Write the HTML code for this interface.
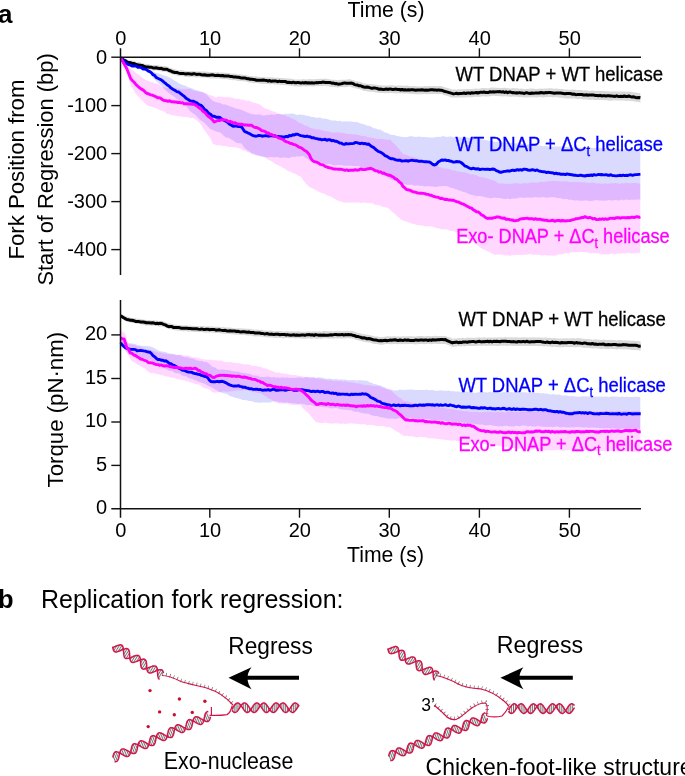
<!DOCTYPE html>
<html><head><meta charset="utf-8"><style>
html,body{margin:0;padding:0;background:#fff;}
svg{display:block;font-family:'Liberation Sans', sans-serif;will-change:transform;}
html,body{overflow:hidden;}
</style></head><body>
<svg width="685" height="776" viewBox="0 0 685 776">
<polygon points="120.9,58.5 123.2,59.5 125.4,61.0 127.7,62.1 129.9,63.6 132.2,64.9 134.4,65.6 136.7,66.0 139.1,67.3 141.4,67.3 143.7,68.2 146.1,70.0 148.4,70.5 150.7,71.3 153.0,71.4 155.9,72.7 158.9,73.4 161.8,74.7 164.7,75.8 167.6,76.6 170.6,78.0 173.5,80.0 176.4,81.5 178.7,83.3 181.1,84.3 183.4,85.2 185.7,85.7 188.1,87.3 190.4,87.7 192.8,88.8 195.3,89.8 197.8,90.5 200.2,91.6 202.8,92.1 205.3,93.6 207.9,95.8 210.4,98.8 212.9,100.8 215.5,102.1 218.1,102.6 220.7,103.2 223.2,104.5 225.8,104.4 228.4,105.7 230.9,106.4 233.4,107.6 236.0,108.5 238.6,109.0 241.1,109.7 243.6,110.7 246.2,112.1 248.8,112.9 251.3,114.1 253.3,114.3 255.3,114.6 257.4,114.5 259.4,114.2 261.4,115.1 263.4,115.4 265.4,115.2 267.4,114.8 269.4,114.9 271.4,114.3 273.4,114.8 275.4,114.5 277.4,114.1 279.4,113.8 281.4,114.5 283.4,114.5 285.4,113.5 287.4,114.2 289.4,113.7 291.4,113.4 293.5,113.8 295.6,114.5 297.6,114.9 299.7,114.3 301.8,115.1 303.9,114.8 305.9,115.8 308.0,115.7 310.1,116.5 312.2,117.0 314.3,116.9 316.5,117.9 318.6,117.6 320.7,117.8 322.8,118.7 324.9,118.6 327.0,119.1 329.2,119.8 331.3,120.4 333.4,120.4 335.5,120.4 337.7,121.3 339.8,120.8 341.9,121.6 344.0,121.6 346.2,121.2 348.3,121.4 350.4,121.6 352.5,121.8 354.7,121.9 356.8,122.0 358.9,122.8 361.1,123.8 363.2,124.1 365.3,124.8 367.4,125.8 369.6,126.1 371.7,126.9 373.8,128.3 375.9,128.6 378.1,129.4 380.2,129.6 382.6,131.1 385.1,132.4 387.6,132.9 390.0,134.6 392.2,135.1 394.4,134.9 396.6,135.9 398.7,136.2 400.9,136.8 403.1,137.0 405.3,137.2 407.5,137.1 409.7,136.3 411.9,136.2 414.1,136.7 416.3,136.9 418.5,136.4 420.7,136.8 422.9,137.1 425.0,137.1 427.2,137.3 429.4,137.5 431.6,137.4 433.8,137.4 436.0,136.9 438.2,136.7 440.4,136.9 442.6,135.9 444.8,136.6 447.0,136.9 449.1,136.6 451.3,136.6 453.5,137.3 455.7,136.8 457.7,136.9 459.8,137.2 461.8,137.5 463.8,137.0 465.8,137.3 467.9,137.4 469.9,138.0 471.9,137.7 473.9,138.2 476.0,137.6 478.0,137.8 480.0,138.8 482.0,139.6 484.0,139.8 486.0,140.1 488.0,140.6 490.0,141.2 492.0,141.0 494.0,141.8 496.0,142.0 498.0,141.5 500.0,141.8 502.1,142.5 504.1,142.5 506.2,142.8 508.2,142.6 510.3,142.5 512.4,142.9 514.4,143.6 516.5,143.2 518.5,143.5 520.6,143.7 522.7,143.9 524.7,144.1 526.8,144.8 528.8,144.2 530.9,144.2 533.0,145.3 535.0,145.4 537.1,145.7 539.1,145.4 541.2,146.1 543.3,146.2 545.3,145.7 547.4,146.4 549.4,146.7 551.5,146.7 553.6,146.6 555.6,146.4 557.7,146.5 559.7,146.5 561.8,146.4 563.9,146.9 565.9,146.7 568.0,147.3 570.0,146.6 572.1,147.5 574.2,147.4 576.2,147.6 578.3,147.7 580.3,147.7 582.4,147.5 584.5,147.0 586.5,147.8 588.6,147.3 590.6,147.4 592.7,147.9 594.8,147.8 596.8,147.7 598.9,148.3 600.9,148.1 603.0,147.8 605.1,147.9 607.1,148.6 609.2,148.3 611.3,148.7 613.4,148.4 615.4,148.4 617.5,148.8 619.6,149.2 621.6,148.7 623.7,149.4 625.8,149.6 627.9,149.6 629.9,149.8 632.0,149.1 634.1,149.8 636.2,150.1 638.2,149.4 640.3,150.0 640.3,199.5 638.2,199.5 636.2,199.8 634.1,199.7 632.0,199.8 629.9,200.0 627.9,199.7 625.8,199.5 623.7,200.4 621.6,199.6 619.6,200.2 617.5,200.5 615.4,199.8 613.4,200.4 611.3,200.4 609.2,200.0 607.1,200.5 605.1,200.6 603.0,200.7 600.9,200.4 598.7,200.5 596.6,200.1 594.4,200.5 592.3,200.7 590.1,201.0 588.0,200.8 585.9,200.3 583.7,200.8 581.6,200.7 579.4,200.7 577.3,200.3 575.1,200.5 573.0,200.2 570.8,199.6 568.7,199.9 566.5,198.8 564.4,199.3 562.2,199.0 560.1,198.0 558.0,198.3 555.8,197.6 553.6,197.2 551.5,197.3 549.4,197.2 547.2,197.8 545.1,197.5 542.9,197.1 540.8,197.4 538.6,197.4 536.5,197.3 534.4,197.0 532.2,197.7 530.1,197.6 527.9,197.4 525.8,197.4 523.5,198.1 521.3,197.6 519.0,197.7 516.8,198.6 514.5,198.5 512.3,198.5 510.0,199.3 508.0,198.5 505.9,199.1 503.9,198.9 501.9,198.6 499.8,198.0 497.8,197.9 495.7,197.8 493.7,197.7 491.7,198.2 489.6,198.2 487.6,197.8 485.4,197.4 483.1,196.6 480.9,196.2 478.6,196.1 476.4,196.2 474.1,195.6 471.9,194.9 469.8,194.6 467.7,193.6 465.6,192.6 463.5,191.9 461.4,191.3 459.1,190.6 456.9,189.5 454.6,188.9 452.4,188.0 450.1,187.8 447.9,186.2 445.6,186.1 443.5,185.9 441.4,186.2 439.3,186.3 437.2,186.7 435.1,187.1 432.9,186.4 430.7,186.4 428.6,186.2 426.4,186.3 424.2,186.4 422.0,185.7 420.0,185.9 417.9,185.3 415.9,185.8 413.8,185.4 411.8,184.8 409.7,184.7 407.7,184.9 405.6,184.3 403.6,184.3 401.3,183.2 399.1,182.8 396.8,181.6 394.6,180.7 392.3,180.2 390.1,179.1 387.8,177.5 385.7,176.0 383.6,175.3 381.5,173.5 379.4,171.8 377.3,170.3 375.2,170.1 373.2,169.8 371.2,169.3 369.1,168.4 367.1,168.5 365.0,167.8 362.9,168.0 360.9,167.1 358.9,166.3 356.8,166.2 354.7,166.0 352.5,166.0 350.4,165.8 348.3,165.8 346.2,166.0 344.0,165.8 341.9,165.3 339.8,165.1 337.7,165.1 335.5,165.5 333.4,165.2 331.1,164.5 328.8,163.7 326.4,164.2 324.1,163.5 321.8,162.4 319.5,162.5 317.1,161.9 314.8,161.6 312.4,160.4 310.1,160.7 307.8,158.9 305.4,157.8 303.1,156.1 301.1,156.3 299.0,156.7 296.9,156.3 294.9,157.3 292.9,156.8 290.8,157.2 288.8,158.2 286.7,157.7 284.6,157.6 282.5,157.4 280.3,158.0 278.2,157.3 276.1,157.1 274.0,157.5 271.9,156.9 269.8,157.3 267.6,157.4 265.5,157.2 263.4,157.2 261.1,156.6 258.7,155.7 256.4,155.1 254.0,153.7 251.7,153.4 249.2,151.2 246.7,149.7 244.2,147.8 241.1,143.3 238.6,143.3 236.0,142.7 233.4,140.7 230.9,139.2 228.4,137.8 225.8,137.4 223.2,135.2 220.7,132.8 218.1,132.1 215.5,131.3 212.9,130.0 210.4,129.2 207.9,126.4 205.3,123.8 202.8,121.8 200.2,120.0 197.6,117.5 195.0,114.4 192.7,113.3 190.4,111.6 188.2,108.8 186.0,106.1 183.4,102.1 181.1,101.0 178.7,100.0 176.4,98.6 173.5,96.2 170.6,94.5 168.3,92.5 166.0,90.9 164.0,88.8 162.0,86.6 160.0,84.6 158.0,82.8 155.5,80.3 153.0,78.0 150.5,74.6 148.0,72.4 146.0,71.7 144.0,70.0 142.0,69.3 140.0,68.5 138.0,67.6 136.0,66.8 134.0,66.8 131.8,65.1 129.6,63.8 127.5,62.5 125.3,60.9 123.1,59.6 120.9,58.5" fill="#0000ff" fill-opacity="0.145"/>
<polygon points="120.9,58.5 123.1,60.6 125.3,62.8 127.5,65.0 129.7,68.0 132.1,69.9 134.4,71.4 136.7,73.6 139.1,75.1 141.4,77.0 143.7,78.5 146.1,80.3 148.4,80.8 150.4,81.9 152.4,82.2 154.5,83.3 156.5,83.5 159.4,85.1 162.4,86.9 164.5,87.3 166.6,87.7 168.7,87.5 170.8,88.2 172.9,87.7 175.0,88.1 177.1,88.2 179.2,88.4 181.4,89.2 183.5,89.2 185.7,88.7 187.8,88.8 190.0,89.1 192.2,90.0 194.4,90.7 196.6,91.2 198.7,91.6 200.9,91.8 203.1,92.6 205.3,93.0 207.3,94.1 209.4,95.0 211.4,95.5 213.5,96.3 215.5,97.7 218.1,96.4 220.7,96.7 222.7,97.0 224.8,97.2 226.8,96.9 228.9,97.3 230.9,97.5 232.9,97.9 235.0,98.7 237.0,98.8 239.1,98.8 241.1,99.8 243.1,99.8 245.2,100.3 247.2,100.9 249.3,100.6 251.3,101.8 253.5,102.4 255.7,103.0 257.8,103.8 260.0,104.5 263.4,107.6 265.5,108.7 267.6,108.9 269.8,110.1 271.9,111.0 274.0,111.6 276.1,112.4 278.2,113.6 280.3,114.3 282.5,114.2 284.6,115.6 286.7,116.2 288.8,116.7 291.0,118.1 293.1,119.0 295.2,119.9 297.3,121.4 299.5,122.9 301.6,123.3 303.7,124.9 305.8,125.8 308.0,126.3 310.1,128.1 312.2,128.2 314.3,129.0 316.5,129.2 318.6,129.6 320.7,129.7 322.8,130.6 324.9,131.1 327.0,131.5 329.2,131.5 331.3,132.2 333.4,132.4 335.5,132.2 337.7,132.4 339.8,132.6 341.9,132.9 344.0,133.1 346.2,133.7 348.3,134.1 350.4,134.1 352.5,134.2 354.7,134.6 356.8,134.5 358.9,135.1 361.1,135.8 363.2,135.9 365.3,136.1 367.4,137.2 369.6,137.5 371.7,137.6 373.8,138.0 375.9,138.6 378.1,139.1 380.2,139.1 382.6,139.0 385.1,139.3 387.6,139.9 390.0,139.3 392.2,141.9 394.4,143.8 396.6,146.0 398.8,148.6 400.9,151.5 403.1,153.9 405.2,154.4 407.4,155.2 409.5,156.0 411.6,157.1 413.8,157.3 415.9,158.0 418.0,159.2 420.2,159.8 422.3,160.9 424.4,160.9 426.6,162.0 428.7,162.7 430.8,163.2 433.0,165.0 435.1,165.1 437.2,165.8 439.4,167.0 441.5,167.6 443.6,168.5 445.8,168.6 447.9,168.8 450.1,169.2 452.2,170.3 454.4,170.3 456.6,171.2 458.7,171.3 460.9,172.2 463.0,172.0 465.2,172.4 467.3,172.9 469.4,174.0 471.5,174.4 473.6,174.6 475.8,175.0 477.9,176.1 480.0,177.0 482.2,177.3 484.4,177.4 486.6,178.2 488.7,179.0 490.9,179.8 493.1,180.3 495.4,181.2 497.7,182.7 500.0,183.8 502.1,183.1 504.3,183.9 506.4,183.4 508.6,183.7 510.8,183.8 512.9,183.8 515.0,182.9 517.2,183.2 519.3,183.5 521.5,183.8 523.6,183.0 525.8,183.2 527.9,183.5 530.1,182.6 532.2,182.6 534.4,182.4 536.5,182.5 538.6,182.5 540.8,181.6 542.9,181.9 545.1,181.7 547.2,181.6 549.4,181.1 551.5,181.2 553.6,180.8 555.8,180.9 558.0,180.9 560.1,181.5 562.2,181.3 564.4,181.2 566.5,181.2 568.7,181.9 570.8,181.9 573.0,182.1 575.1,181.9 577.3,182.1 579.4,181.9 581.6,182.5 583.7,181.9 585.9,182.5 588.0,182.9 590.1,182.9 592.3,182.5 594.4,182.7 596.6,183.4 598.7,183.3 600.9,183.7 603.0,183.8 605.1,183.3 607.1,183.8 609.2,183.6 611.3,183.2 613.4,183.3 615.4,183.0 617.5,183.3 619.6,183.9 621.6,183.0 623.7,183.5 625.8,183.0 627.9,183.0 629.9,183.5 632.0,183.1 634.1,182.9 636.2,183.1 638.2,183.5 640.3,183.4 640.3,253.0 638.2,252.8 636.2,253.5 634.1,252.9 632.0,253.7 629.9,253.1 627.9,253.0 625.8,253.6 623.7,253.3 621.6,253.6 619.6,253.5 617.5,253.4 615.4,254.3 613.4,253.7 611.3,253.5 609.2,254.4 607.1,254.3 605.1,254.6 603.0,254.5 600.9,254.1 598.7,253.4 596.6,253.3 594.4,253.2 592.3,252.8 590.1,253.5 588.0,252.5 585.9,252.2 583.7,252.1 581.6,252.0 579.4,251.7 577.3,252.1 575.1,252.5 573.0,252.1 570.8,252.5 568.7,253.3 566.5,253.2 564.4,253.3 562.2,254.4 560.1,254.0 558.0,254.8 555.8,255.4 553.6,255.7 551.5,255.6 549.4,255.4 547.2,255.6 545.1,254.9 542.9,255.6 540.8,255.3 538.6,254.7 536.5,254.8 534.4,254.8 532.2,254.7 530.1,254.0 527.9,254.5 525.8,254.7 523.5,254.8 521.3,255.0 519.0,254.7 516.8,255.0 514.5,254.9 512.3,254.9 510.0,255.9 507.9,255.2 505.7,255.4 503.6,254.9 501.4,254.6 499.3,254.5 497.2,254.5 495.0,254.8 492.9,254.3 490.8,252.7 488.7,251.7 486.6,250.9 484.5,249.8 482.4,248.9 480.3,247.5 478.2,246.1 476.1,244.2 474.0,242.4 471.9,241.3 469.6,240.0 467.4,238.4 465.1,236.5 462.9,235.3 460.6,234.1 458.4,233.1 456.1,232.0 453.9,231.3 451.7,231.1 449.6,230.7 447.4,229.6 445.2,229.3 443.0,229.4 440.8,229.1 438.6,228.4 436.4,227.9 434.2,227.3 432.0,226.5 429.8,226.3 427.6,226.2 425.4,226.4 423.2,225.6 421.1,225.4 418.9,225.0 416.7,225.2 414.5,224.1 412.3,223.7 410.1,223.1 408.0,222.0 405.8,221.6 403.6,220.7 401.3,219.8 399.1,217.7 396.8,216.1 394.6,213.7 392.3,212.1 390.1,209.7 387.8,207.7 385.8,207.2 383.7,207.0 381.7,206.4 379.6,205.4 377.6,204.7 375.5,204.9 373.5,203.7 371.4,203.2 369.4,203.1 367.3,203.1 365.2,202.7 363.1,202.4 361.0,203.0 358.9,202.4 356.8,202.5 354.6,202.6 352.4,202.6 350.2,202.5 348.0,202.4 345.8,202.7 343.2,202.3 340.7,201.5 338.1,200.7 336.1,199.5 334.0,198.7 332.0,197.2 330.0,196.2 327.9,195.7 325.9,194.7 323.8,193.6 321.8,192.9 319.8,192.3 317.8,191.3 315.8,189.9 313.7,189.0 311.7,187.9 309.7,187.3 307.7,185.6 305.4,183.1 303.0,179.9 300.7,176.6 298.7,176.0 296.7,174.4 294.7,173.5 292.7,173.2 290.7,171.6 288.7,171.2 286.7,170.3 284.6,168.5 282.5,167.7 280.5,166.3 278.4,165.6 276.3,164.4 274.2,163.2 272.2,161.6 270.1,160.5 268.0,159.7 265.7,157.7 263.4,156.3 260.9,155.9 258.4,155.6 255.9,155.6 253.4,154.6 251.3,153.6 249.3,152.5 247.2,151.9 245.2,150.8 243.2,150.5 241.1,148.9 238.6,147.9 236.0,147.5 234.0,147.3 231.9,146.9 229.9,147.0 227.8,146.7 225.8,146.0 223.5,146.1 221.2,145.7 218.9,145.2 216.6,145.6 214.6,144.4 212.5,143.4 210.4,137.9 207.9,135.0 205.3,131.2 202.8,127.8 200.2,123.5 197.6,121.3 195.1,118.9 192.7,118.0 190.4,118.0 188.0,117.3 185.7,117.0 183.3,116.8 181.0,116.8 178.7,116.0 176.3,115.9 174.0,115.3 171.7,115.3 169.3,113.9 167.0,113.9 164.7,111.8 162.3,110.7 160.0,110.2 157.7,108.7 155.3,108.0 153.0,107.3 150.1,106.4 147.2,105.5 144.3,102.4 141.4,99.7 138.4,96.4 135.5,93.6 133.2,89.2 130.8,85.9 128.5,78.1 125.0,67.5 123.0,63.3 120.9,58.5" fill="#ff00ff" fill-opacity="0.158"/>
<polygon points="120.7,55.9 123.3,57.6 125.9,58.8 128.5,60.2 132.0,60.5 134.3,60.9 136.7,61.9 139.0,62.1 141.3,62.7 143.7,63.6 146.0,64.2 148.3,64.0 150.7,64.9 153.0,64.9 155.1,65.0 157.1,65.0 159.1,65.4 161.2,65.9 164.1,66.0 167.0,66.5 169.9,67.7 172.9,68.8 175.8,69.5 178.7,70.4 181.0,70.1 183.4,70.4 185.7,71.0 187.8,71.1 189.8,71.2 191.8,70.9 193.9,71.0 195.9,71.4 198.0,71.3 200.3,71.5 202.6,71.4 205.0,71.4 207.3,71.7 209.6,72.1 211.7,72.2 213.8,72.2 215.9,72.2 217.9,72.3 220.0,72.4 222.1,72.5 224.2,72.8 226.3,72.7 228.4,73.1 230.5,73.6 232.5,73.8 234.6,73.6 236.7,74.3 238.8,74.5 240.9,74.4 243.0,74.7 245.1,75.0 247.1,75.2 249.2,76.1 251.3,76.0 253.4,76.6 255.5,76.3 257.6,76.4 259.7,77.0 261.7,77.1 263.8,77.3 265.9,77.3 268.0,77.3 270.1,77.6 272.2,77.3 274.3,77.7 276.3,77.8 278.4,77.7 280.5,78.1 282.6,78.1 284.7,78.3 286.7,78.4 288.8,78.5 290.9,78.7 292.9,79.0 295.0,79.4 297.2,79.4 299.3,79.4 301.5,79.4 303.6,79.1 305.8,79.6 307.9,79.2 310.1,79.1 312.1,79.2 314.1,79.3 316.1,78.9 318.1,79.0 320.1,78.7 322.1,79.0 324.1,78.6 326.1,78.8 328.1,79.1 330.1,79.5 332.1,79.8 334.1,79.7 336.1,79.9 338.1,80.2 340.4,79.7 342.8,79.7 345.1,79.8 347.5,79.5 349.8,78.9 351.8,80.0 353.8,80.3 355.8,81.2 357.8,81.4 359.8,81.8 361.8,82.6 363.8,83.4 365.9,83.4 367.9,83.9 369.9,84.1 372.0,84.2 374.1,84.4 376.1,84.8 378.1,85.0 380.2,85.3 382.6,85.5 385.1,85.6 387.6,85.5 390.0,85.2 392.1,85.3 394.3,85.5 396.4,85.7 398.6,85.5 400.8,85.5 402.9,85.7 405.1,85.7 407.2,85.6 409.4,86.0 411.5,86.3 413.7,86.1 415.8,86.3 417.9,86.4 420.1,86.4 422.2,86.4 424.4,86.1 426.5,86.2 428.6,85.9 430.8,86.3 432.9,86.0 435.1,86.1 437.2,86.3 439.4,86.0 441.5,85.9 443.6,87.0 445.7,87.6 447.7,88.0 449.8,88.6 451.9,89.6 454.1,89.3 456.3,89.7 458.5,89.2 460.7,89.2 462.9,89.2 465.1,89.2 467.3,89.1 469.4,89.1 471.6,89.0 473.8,88.7 475.9,88.4 478.1,88.8 480.2,88.5 482.4,88.0 484.5,88.1 486.7,88.2 488.8,88.2 491.0,87.6 493.1,87.4 495.4,87.7 497.7,87.7 500.0,87.9 502.1,88.0 504.3,87.8 506.4,88.0 508.6,88.2 510.8,88.4 512.9,88.1 515.0,88.3 517.2,88.3 519.3,88.7 521.5,88.4 523.6,89.1 525.8,88.9 527.9,88.9 530.1,88.6 532.2,88.6 534.4,88.7 536.5,88.9 538.6,88.7 540.8,88.5 542.9,88.8 545.1,88.6 547.2,88.5 549.4,88.2 551.5,88.2 553.6,88.7 555.8,88.4 558.0,88.8 560.1,89.0 562.2,89.0 564.4,89.4 566.5,89.6 568.7,89.7 570.8,89.8 573.0,89.6 575.1,89.7 577.3,90.0 579.4,90.1 581.6,90.1 583.7,90.6 585.9,90.3 588.0,90.8 590.1,90.9 592.3,90.6 594.4,91.1 596.6,90.9 598.7,90.9 600.9,91.0 603.0,91.0 605.1,91.3 607.3,91.3 609.5,91.6 611.6,91.6 613.8,91.2 615.9,91.5 618.0,91.5 620.2,91.4 622.3,91.5 624.5,91.5 626.6,91.8 628.8,91.6 631.1,91.8 633.4,92.2 635.8,92.6 638.1,92.9 640.4,93.2 640.4,102.4 638.1,102.1 635.8,101.8 633.4,101.3 631.1,100.9 628.8,100.8 626.6,100.9 624.5,100.6 622.3,100.6 620.2,100.5 618.0,100.6 615.9,100.5 613.8,100.3 611.6,100.7 609.5,100.7 607.3,100.3 605.1,100.3 603.0,100.0 600.9,100.0 598.7,99.9 596.6,99.9 594.4,100.1 592.3,99.5 590.1,99.9 588.0,99.7 585.9,99.2 583.7,99.5 581.6,99.0 579.4,98.9 577.3,98.9 575.1,98.5 573.0,98.4 570.8,98.6 568.7,98.5 566.5,98.4 564.4,98.2 562.2,97.7 560.1,97.8 558.0,97.5 555.8,97.1 553.6,97.5 551.5,96.9 549.4,96.9 547.2,97.1 545.1,97.3 542.9,97.5 540.8,97.1 538.6,97.3 536.5,97.5 534.4,97.3 532.2,97.2 530.1,97.2 527.9,97.5 525.8,97.5 523.6,97.6 521.5,97.0 519.3,97.2 517.2,96.8 515.0,96.8 512.9,96.6 510.8,96.9 508.6,96.6 506.4,96.4 504.3,96.2 502.1,96.4 500.0,96.3 497.7,96.1 495.4,96.1 493.1,95.8 491.0,95.9 488.8,96.6 486.7,96.5 484.5,96.5 482.4,96.3 480.2,96.8 478.1,97.1 475.9,96.7 473.8,97.0 471.6,97.2 469.4,97.3 467.3,97.3 465.1,97.4 462.9,97.4 460.7,97.4 458.5,97.4 456.3,97.8 454.1,97.4 451.9,97.7 449.8,96.7 447.7,96.1 445.7,95.6 443.6,95.0 441.5,93.9 439.4,94.0 437.2,94.3 435.1,94.1 432.9,94.0 430.8,94.3 428.6,93.9 426.5,94.2 424.4,94.0 422.2,94.3 420.1,94.3 417.9,94.2 415.8,94.2 413.7,94.0 411.5,94.1 409.4,93.8 407.2,93.5 405.1,93.5 402.9,93.5 400.8,93.3 398.6,93.2 396.4,93.4 394.3,93.2 392.1,93.1 390.0,92.9 387.6,93.2 385.1,93.3 382.6,93.1 380.2,92.9 378.1,92.7 376.1,92.4 374.1,92.0 372.0,91.8 369.9,91.7 367.9,91.5 365.9,90.9 363.8,90.9 361.8,90.1 359.8,89.3 357.8,88.8 355.8,88.6 353.8,87.7 351.8,87.4 349.8,86.3 347.5,86.9 345.1,87.2 342.8,87.1 340.4,87.0 338.1,87.5 336.1,87.2 334.1,87.0 332.1,87.0 330.1,86.7 328.1,86.3 326.1,86.0 324.1,85.8 322.1,86.2 320.1,85.9 318.1,86.2 316.1,86.1 314.1,86.4 312.1,86.4 310.1,86.2 307.9,86.3 305.8,86.6 303.6,86.2 301.5,86.5 299.3,86.4 297.2,86.4 295.0,86.4 292.9,86.0 290.9,85.7 288.8,85.5 286.7,85.3 284.7,85.2 282.6,84.9 280.5,85.0 278.4,84.6 276.3,84.6 274.3,84.5 272.2,84.1 270.1,84.4 268.0,84.1 265.9,84.0 263.8,84.1 261.7,83.8 259.7,83.7 257.6,83.0 255.5,82.9 253.4,83.2 251.3,82.6 249.2,82.7 247.1,81.8 245.1,81.5 243.0,81.3 240.9,80.9 238.8,80.9 236.7,80.8 234.6,80.0 232.5,80.2 230.5,80.0 228.4,79.5 226.3,79.0 224.2,79.2 222.1,78.9 220.0,78.7 217.9,78.6 215.9,78.5 213.8,78.4 211.7,78.4 209.6,78.2 207.3,77.9 205.0,77.5 202.6,77.5 200.3,77.6 198.0,77.3 195.9,77.5 193.9,77.0 191.8,76.8 189.8,77.2 187.8,77.1 185.7,76.9 183.4,76.3 181.0,76.0 178.7,76.3 175.8,75.3 172.9,74.6 169.9,73.4 167.0,72.2 164.1,71.7 161.2,71.5 159.1,70.9 157.1,70.5 155.1,70.5 153.0,70.4 150.7,70.3 148.3,69.4 146.0,69.6 143.7,68.9 141.3,67.9 139.0,67.3 136.7,67.1 134.3,66.1 132.0,65.5 128.5,65.2 125.9,63.7 123.3,62.4 120.7,60.5" fill="#000" fill-opacity="0.15"/>
<polyline points="120.7,58.2 122.3,58.9 123.8,60.1 125.4,60.6 126.9,61.9 128.5,62.7 130.2,62.6 132.0,63.4 133.8,63.5 135.5,64.1 137.2,64.6 139.0,65.0 140.8,65.3 142.5,65.4 144.2,66.5 146.0,67.0 147.8,66.9 149.5,67.2 151.2,67.2 153.0,67.9 154.6,67.9 156.3,67.7 157.9,68.3 159.6,68.6 161.2,68.3 163.1,69.2 165.1,69.2 167.0,69.3 169.0,70.5 170.9,71.0 172.9,72.1 174.8,72.4 176.8,72.4 178.7,73.1 180.4,73.5 182.2,73.4 183.9,73.6 185.7,74.0 187.2,73.7 188.8,73.8 190.3,74.0 191.8,74.3 193.4,73.8 194.9,73.8 196.5,74.4 198.0,74.3 199.7,74.2 201.3,74.8 203.0,74.9 204.6,74.7 206.3,75.2 207.9,75.2 209.6,75.2 211.2,74.9 212.8,74.8 214.5,75.4 216.1,75.5 217.7,75.3 219.3,75.5 221.0,75.7 222.6,75.5 224.2,76.0 225.8,76.0 227.4,76.1 229.1,76.1 230.7,76.6 232.3,76.6 233.9,77.1 235.6,76.9 237.2,77.2 238.8,77.3 240.4,77.7 242.0,78.0 243.7,77.9 245.3,78.1 246.9,78.7 248.5,78.7 250.2,79.2 251.8,79.2 253.4,79.4 255.0,79.8 256.6,80.3 258.3,80.3 259.9,80.2 261.5,80.2 263.1,80.0 264.8,80.3 266.4,80.4 268.0,81.1 269.6,80.5 271.2,81.3 272.9,81.0 274.5,81.0 276.1,81.0 277.7,81.7 279.4,81.1 281.0,81.6 282.6,81.6 284.2,81.5 285.7,81.6 287.2,82.4 288.8,82.3 290.4,82.4 291.9,82.7 293.4,82.2 295.0,82.8 296.5,82.8 298.0,82.4 299.5,82.7 301.0,83.1 302.6,82.6 304.1,83.0 305.6,82.5 307.1,83.0 308.6,82.7 310.1,82.9 311.7,82.7 313.2,83.0 314.8,82.9 316.3,82.6 317.9,82.7 319.4,82.4 321.0,82.6 322.5,82.1 324.1,82.2 325.7,82.4 327.2,82.5 328.8,82.4 330.3,82.6 331.9,83.2 333.4,83.0 335.0,83.7 336.5,83.6 338.1,84.2 339.8,83.9 341.4,83.7 343.1,83.3 344.8,82.9 346.5,83.2 348.1,83.2 349.8,83.2 351.4,83.1 352.9,83.5 354.5,84.6 356.0,84.9 357.6,85.1 359.1,85.8 360.7,85.7 362.2,86.5 363.8,87.0 365.4,87.2 367.1,87.1 368.7,87.3 370.4,87.9 372.0,88.4 373.6,88.0 375.3,88.1 376.9,88.4 378.6,89.2 380.2,89.1 381.8,89.2 383.5,89.6 385.1,89.3 386.7,89.1 388.4,89.4 390.0,88.9 391.5,89.2 393.0,89.6 394.6,89.2 396.1,89.1 397.6,89.5 399.1,89.4 400.6,90.0 402.1,89.4 403.7,90.0 405.2,89.7 406.7,90.1 408.2,89.8 409.7,90.0 411.2,89.8 412.8,89.8 414.3,90.0 415.8,90.3 417.3,90.0 418.8,89.9 420.3,90.0 421.8,89.8 423.4,90.0 424.9,90.2 426.4,90.1 427.9,90.2 429.4,89.9 430.9,89.7 432.4,89.7 433.9,90.0 435.5,89.9 437.0,90.2 438.5,89.9 440.0,90.3 441.5,90.2 443.2,90.8 445.0,91.5 446.7,91.9 448.4,92.4 450.2,92.9 451.9,93.4 453.4,93.9 455.0,93.6 456.5,93.2 458.1,93.8 459.6,93.5 461.1,93.5 462.7,93.3 464.2,93.0 465.8,93.6 467.3,92.9 468.8,93.0 470.3,93.4 471.9,92.7 473.4,92.9 474.9,92.8 476.4,92.5 477.9,93.0 479.4,92.5 481.0,92.1 482.5,92.4 484.0,92.0 485.5,92.4 487.0,92.5 488.5,92.5 490.1,91.7 491.6,92.1 493.1,91.7 494.8,91.9 496.6,91.7 498.3,91.7 500.0,91.6 501.5,92.1 503.0,91.7 504.6,92.5 506.1,91.8 507.6,92.7 509.1,92.1 510.6,92.1 512.1,92.7 513.7,92.6 515.2,92.9 516.7,92.7 518.2,92.9 519.7,92.6 521.2,93.1 522.8,93.1 524.3,93.5 525.8,92.8 527.3,92.8 528.8,93.3 530.3,93.5 531.8,93.0 533.4,93.2 534.9,93.1 536.4,92.9 537.9,92.9 539.4,93.0 540.9,92.5 542.4,92.7 543.9,93.0 545.5,92.6 547.0,92.8 548.5,92.6 550.0,92.6 551.5,92.8 553.0,93.0 554.5,93.3 556.1,93.0 557.6,92.9 559.1,93.1 560.6,93.0 562.1,93.2 563.6,93.6 565.2,93.7 566.7,93.6 568.2,93.6 569.7,93.6 571.2,93.8 572.7,94.2 574.3,94.1 575.8,94.7 577.3,94.6 578.8,94.4 580.3,94.6 581.8,94.4 583.3,95.0 584.9,95.1 586.4,94.8 587.9,95.2 589.4,94.9 590.9,95.0 592.4,95.0 593.9,95.1 595.4,95.5 597.0,95.6 598.5,95.8 600.0,95.3 601.5,95.9 603.0,95.8 604.5,95.7 606.0,95.9 607.6,95.8 609.1,95.7 610.6,95.9 612.1,96.1 613.6,96.2 615.1,96.4 616.7,95.8 618.2,96.4 619.7,96.4 621.2,96.3 622.7,96.6 624.2,95.9 625.8,96.5 627.3,96.6 628.8,96.0 630.5,96.6 632.1,97.1 633.8,96.8 635.4,97.4 637.1,97.7 638.7,97.5 640.4,97.8" fill="none" stroke="#000" stroke-width="3.0" stroke-linejoin="round" stroke-linecap="butt"/>
<polyline points="120.9,58.5 122.4,59.4 123.9,60.8 125.5,62.7 127.0,63.5 128.5,64.7 130.5,65.2 132.4,66.1 134.4,65.9 136.2,66.0 137.9,67.4 139.7,67.2 141.4,67.7 143.2,69.0 144.9,69.1 146.7,69.6 148.4,71.2 149.9,71.7 151.5,72.9 153.0,74.7 154.6,75.4 156.1,77.4 157.7,78.2 159.3,79.0 160.8,79.6 162.4,80.7 163.9,82.1 165.5,83.3 167.0,84.8 169.0,86.0 170.9,87.9 172.9,89.3 174.8,90.3 176.8,91.6 178.7,92.0 180.7,93.7 182.6,95.2 184.6,96.7 186.5,98.6 188.5,99.7 190.4,100.9 191.9,101.2 193.5,101.3 195.0,102.2 196.9,102.9 198.9,104.7 200.8,105.1 202.8,107.0 204.7,109.6 206.7,110.8 208.6,113.2 210.6,114.3 212.5,116.4 214.3,116.2 216.2,117.3 218.0,117.2 219.8,117.5 221.8,119.1 223.7,120.2 225.7,121.1 227.6,122.4 229.6,124.3 231.5,125.2 233.2,126.3 234.9,126.0 236.6,126.1 238.3,126.5 240.0,126.6 241.7,127.0 244.6,131.5 246.2,132.1 247.7,132.8 249.3,133.5 250.9,134.4 252.4,135.4 254.0,135.8 255.6,136.2 257.3,135.9 258.9,135.5 260.6,135.6 262.2,136.2 263.8,135.9 265.5,135.8 267.1,135.9 268.8,136.2 270.4,135.8 272.0,135.9 273.5,136.0 275.1,135.8 276.6,136.5 278.2,136.5 279.7,136.7 281.3,136.8 282.8,136.9 284.4,137.3 286.1,136.4 287.7,136.8 289.4,135.5 291.1,135.9 292.8,134.8 294.4,135.0 296.1,134.1 297.7,134.2 299.2,135.0 300.8,135.6 302.3,135.9 303.9,136.2 305.4,136.6 307.0,136.0 308.5,136.7 310.1,136.7 311.8,137.7 313.4,137.7 315.1,138.3 316.8,138.7 318.5,139.2 320.1,139.2 321.8,139.8 323.5,139.6 325.1,139.3 326.8,140.3 328.4,139.7 330.1,139.8 331.7,140.8 333.4,140.4 335.0,141.3 336.5,141.3 338.1,142.1 339.7,143.1 341.2,143.1 342.8,144.1 344.4,144.4 345.9,143.5 347.5,143.9 349.0,143.8 350.6,143.6 352.1,143.6 353.7,143.4 355.2,142.5 356.8,142.6 358.5,143.1 360.1,143.7 361.8,143.1 363.5,143.7 365.2,143.4 366.8,144.3 368.5,144.0 370.2,145.3 371.8,146.6 373.5,147.3 375.2,149.0 376.9,150.3 378.5,151.5 380.2,152.1 381.8,153.0 383.3,153.9 384.9,155.6 386.4,156.1 387.9,157.0 389.5,158.1 391.0,158.7 392.6,158.7 394.1,159.1 395.7,159.9 397.2,160.2 398.8,160.1 400.3,160.3 401.9,161.1 403.4,160.9 404.9,160.8 406.5,160.6 408.1,161.2 409.6,160.6 411.2,160.4 412.7,160.3 414.2,160.6 415.8,160.8 417.3,160.7 418.8,161.4 420.3,161.3 421.8,161.2 423.4,161.6 424.9,161.7 426.4,161.8 427.9,161.9 429.4,162.0 431.2,163.1 432.9,164.5 434.7,165.0 436.5,164.1 438.2,162.0 440.0,161.0 441.7,160.0 443.5,160.2 445.2,159.9 446.8,160.6 448.3,160.5 449.9,161.0 451.4,161.2 453.0,162.1 454.6,162.1 456.2,161.5 457.8,161.7 459.4,161.7 461.0,162.5 462.9,164.0 464.9,166.1 466.5,166.4 468.2,167.5 469.9,168.3 471.5,168.8 473.2,168.2 474.9,168.8 476.6,169.0 478.3,168.7 480.0,169.6 481.6,169.1 483.3,169.1 484.9,169.4 486.6,169.3 488.2,169.2 489.8,169.6 491.5,169.2 493.1,169.0 494.6,169.4 496.2,170.6 497.7,171.1 499.3,172.0 500.8,172.4 502.5,171.8 504.2,171.4 506.0,171.2 507.7,170.8 509.4,171.2 511.1,170.6 512.6,170.1 514.2,170.5 515.7,170.3 517.3,169.6 518.8,170.2 520.4,169.6 521.9,170.2 523.5,169.3 525.0,169.3 526.5,169.4 528.0,170.1 529.5,170.2 531.0,170.0 532.6,169.7 534.1,170.1 535.6,170.5 537.1,169.9 538.6,170.9 540.2,171.2 541.8,171.6 543.4,171.7 545.0,171.9 546.7,172.6 548.3,172.2 549.9,172.6 551.5,172.7 553.0,172.9 554.6,173.7 556.1,173.1 557.7,173.9 559.2,173.6 560.8,174.3 562.4,174.3 563.9,174.3 565.5,174.6 567.0,173.9 568.5,174.3 570.0,174.5 571.5,174.7 573.0,175.0 574.5,175.3 576.0,175.3 577.5,175.6 579.0,175.5 580.5,175.2 582.0,175.5 583.5,175.8 585.0,176.0 586.5,175.5 588.0,175.3 589.5,175.5 591.0,175.0 592.5,175.5 594.0,174.6 595.5,175.1 597.0,174.8 598.5,174.4 600.0,174.7 601.5,174.5 603.0,174.9 604.5,174.9 606.1,174.7 607.6,175.2 609.2,175.3 610.8,174.7 612.3,175.5 613.9,175.6 615.4,175.9 617.0,175.8 618.5,175.6 620.1,175.3 621.6,175.7 623.2,175.1 624.8,175.6 626.3,175.3 627.9,175.5 629.5,174.9 631.0,174.8 632.6,175.3 634.1,174.9 635.7,174.6 637.3,174.6 638.8,174.4 640.4,174.4" fill="none" stroke="#0000ff" stroke-width="2.9" stroke-linejoin="round" stroke-linecap="butt"/>
<polyline points="120.9,58.5 123.0,62.1 125.0,65.5 126.8,68.8 128.5,73.0 130.8,78.8 132.4,80.6 133.9,82.0 135.5,83.9 137.5,86.0 139.4,87.7 141.4,89.1 143.3,90.1 145.3,92.2 147.2,93.5 148.9,94.0 150.7,94.8 152.4,95.2 154.2,96.0 156.1,96.9 158.1,97.9 160.0,97.8 161.6,99.0 163.1,100.1 164.7,100.6 166.3,100.7 168.0,101.3 169.6,100.7 171.3,101.7 172.9,101.8 174.5,102.0 176.1,102.0 177.8,102.5 179.4,102.3 181.0,102.9 182.6,102.8 184.1,103.7 185.7,103.8 187.3,103.6 188.8,104.1 190.4,103.9 192.3,104.4 194.1,104.3 196.0,105.4 197.7,106.7 199.4,108.1 201.1,108.8 202.9,111.3 204.8,112.4 206.6,114.7 208.4,116.5 210.3,117.8 212.3,119.8 214.2,122.0 216.0,121.3 217.7,120.5 219.5,120.6 221.2,119.7 223.0,119.8 224.8,119.9 226.5,120.1 228.3,121.6 230.0,121.3 231.8,122.1 233.4,123.0 235.1,122.7 236.7,123.5 238.4,124.2 240.0,124.3 241.7,124.2 243.3,124.8 245.0,125.0 246.7,125.0 248.4,125.2 250.0,125.1 251.7,125.3 253.4,126.7 255.0,127.5 256.7,127.4 258.4,128.4 260.1,129.3 261.7,130.7 263.4,130.9 265.1,131.5 266.7,132.8 268.4,132.9 270.0,134.4 271.7,134.5 273.3,135.6 275.0,136.2 276.7,136.5 278.3,137.9 280.0,138.3 281.7,139.0 283.4,139.7 285.0,141.2 286.7,141.9 288.4,142.3 290.0,143.4 291.7,143.5 293.4,144.4 295.1,144.7 296.7,145.6 298.4,146.8 299.9,147.4 301.5,148.0 303.0,149.1 304.6,150.5 306.1,151.1 307.7,152.7 309.3,154.6 310.8,158.1 312.4,160.5 314.0,161.5 315.5,161.8 317.1,162.3 318.7,163.2 320.2,164.4 321.8,164.6 323.5,165.2 325.1,166.4 326.8,167.0 328.4,167.5 330.1,167.9 331.7,168.2 333.4,169.0 335.1,169.0 336.7,169.1 338.4,169.3 340.1,169.1 341.8,169.4 343.4,169.8 345.1,170.3 346.8,169.8 348.4,170.6 350.1,170.2 351.8,170.3 353.5,170.3 355.1,169.6 356.8,170.2 358.4,170.1 359.9,169.3 361.5,169.0 363.0,169.6 364.6,169.5 366.1,169.3 367.7,168.8 369.2,168.8 370.8,168.2 372.4,169.0 374.1,169.9 375.7,170.9 377.3,170.9 378.9,172.2 380.6,171.8 382.2,173.3 383.9,173.0 385.5,174.1 387.1,174.6 388.8,175.3 390.4,175.3 392.0,176.5 393.6,177.2 395.1,178.8 396.7,179.1 398.3,180.9 399.9,182.4 401.5,183.7 403.0,186.5 404.6,187.7 406.2,189.3 407.7,189.8 409.2,190.0 410.7,190.6 412.2,191.4 413.7,192.0 415.2,192.1 416.7,192.7 418.3,193.0 420.0,193.2 421.6,193.2 423.2,193.4 424.9,193.6 426.5,194.4 428.2,194.4 429.8,195.2 431.3,195.3 432.8,196.1 434.3,196.5 435.9,197.1 437.4,197.1 438.9,197.7 440.4,198.6 442.0,198.3 443.7,199.0 445.3,199.5 446.9,199.2 448.6,200.0 450.2,199.9 451.9,200.4 453.5,200.2 455.1,201.1 456.8,201.7 458.4,201.9 460.1,202.9 461.7,203.6 463.3,204.1 465.0,205.0 466.6,205.9 468.2,206.8 469.9,207.8 471.6,208.1 473.2,209.7 474.9,210.6 476.5,211.9 478.2,211.9 479.8,213.1 481.4,214.9 482.9,215.4 484.5,216.7 486.0,217.7 487.6,218.5 489.1,218.3 490.6,218.1 492.1,218.3 493.7,217.6 495.2,217.6 496.7,216.9 498.2,217.0 499.8,217.3 501.3,217.8 502.9,218.4 504.4,218.0 506.0,219.3 507.5,219.3 509.1,219.4 510.6,220.0 512.2,220.0 513.7,220.5 515.2,220.8 516.7,220.4 518.2,220.2 519.8,219.2 521.3,218.8 522.8,218.7 524.3,218.5 525.8,218.4 527.4,218.2 529.0,218.8 530.6,218.8 532.2,218.6 533.8,219.3 535.4,218.7 537.0,219.4 538.6,219.2 540.2,219.2 541.8,219.8 543.4,220.0 545.0,220.3 546.7,220.2 548.3,220.9 549.9,220.9 551.5,220.5 553.0,220.3 554.6,221.3 556.1,220.7 557.7,220.4 559.2,220.5 560.8,221.0 562.4,220.5 563.9,220.7 565.5,221.0 567.0,220.7 568.5,220.6 570.0,220.6 571.5,220.1 573.0,219.6 574.5,219.3 576.0,218.7 577.5,218.7 579.0,218.3 580.5,218.0 582.0,217.5 583.5,217.5 585.0,216.6 586.6,217.4 588.2,218.0 589.8,217.4 591.5,218.0 593.1,219.0 594.7,218.4 596.3,219.5 597.9,219.6 599.4,219.0 600.9,219.4 602.4,218.7 603.9,219.4 605.4,218.8 606.9,219.3 608.4,219.1 609.9,218.3 611.4,218.4 612.9,218.1 614.4,218.6 615.9,217.8 617.4,217.7 619.0,217.7 620.5,218.3 622.0,217.6 623.6,217.6 625.1,217.7 626.6,217.7 628.1,217.5 629.7,217.9 631.2,217.2 632.7,217.3 634.3,217.6 635.8,216.9 637.3,216.7 638.9,217.3 640.4,216.9" fill="none" stroke="#ff00ff" stroke-width="2.9" stroke-linejoin="round" stroke-linecap="butt"/>
<polygon points="120.6,340.3 123.2,341.0 125.9,342.4 128.5,343.2 130.8,343.3 133.0,343.7 135.3,344.0 137.5,345.3 139.8,345.3 142.0,345.7 144.3,346.1 147.2,346.0 150.0,346.5 152.4,346.9 154.8,348.6 157.2,349.8 159.6,350.9 161.7,351.4 163.7,351.7 165.8,352.0 167.9,353.0 170.0,353.6 172.0,353.7 174.1,353.9 176.1,355.0 178.1,354.8 180.1,355.3 182.1,356.2 184.1,356.9 186.1,357.2 188.1,357.2 190.1,358.6 192.1,358.3 194.1,358.9 196.1,360.1 198.1,360.4 200.2,360.9 202.2,360.7 204.2,362.0 206.2,362.0 208.4,363.1 210.7,365.3 212.9,366.9 215.2,367.4 217.4,369.3 219.6,369.8 221.7,369.4 223.9,369.5 226.0,370.1 228.2,369.9 230.3,370.6 232.3,370.9 234.3,371.3 236.3,371.5 238.4,371.4 240.4,372.3 242.4,372.7 244.4,373.0 246.4,373.5 248.7,373.7 250.9,374.2 253.2,375.4 255.5,375.4 257.7,375.7 260.0,377.1 262.0,376.7 264.0,377.0 266.0,376.7 268.0,376.6 270.0,376.9 272.0,377.5 274.0,377.0 276.0,377.8 278.0,377.2 280.0,377.9 282.0,377.3 284.0,377.7 286.0,377.4 288.0,377.6 290.0,378.0 292.2,377.8 294.4,377.9 296.5,377.4 298.7,377.5 300.9,377.4 303.1,377.9 305.3,377.0 307.4,377.2 309.6,377.5 311.8,377.2 313.9,377.1 316.0,378.0 318.2,377.3 320.3,377.6 322.4,377.7 324.5,378.3 326.6,378.9 328.7,378.6 330.9,378.8 333.0,379.5 335.1,379.0 337.1,379.0 339.2,379.7 341.2,379.2 343.2,379.7 345.2,379.4 347.3,380.0 349.3,380.3 351.3,380.0 353.3,379.9 355.4,380.3 357.4,380.5 359.4,379.9 361.4,380.2 363.5,380.4 365.5,380.6 367.6,381.1 369.6,382.3 371.7,382.7 373.8,384.1 375.9,384.3 377.9,385.0 380.0,385.6 382.3,386.4 384.7,387.3 387.0,388.7 389.4,389.0 391.7,389.8 393.8,390.4 395.8,390.4 397.9,390.2 399.9,389.6 402.0,389.7 404.1,389.9 406.1,389.7 408.2,389.7 410.2,389.6 412.3,389.6 414.3,390.1 416.4,390.0 418.5,389.8 420.5,389.9 422.6,390.0 424.6,390.1 426.7,389.4 428.7,390.3 430.8,390.1 432.8,390.1 434.8,390.8 436.9,390.7 438.9,390.4 440.9,390.2 442.9,390.7 445.0,390.8 447.0,390.8 449.0,390.6 451.1,391.2 453.1,391.0 455.1,391.6 457.2,391.5 459.2,391.4 461.2,392.0 463.2,391.7 465.3,391.5 467.3,391.8 469.3,391.6 471.4,392.1 473.4,392.7 475.4,392.7 477.5,392.5 479.5,392.0 481.5,392.0 483.6,392.0 485.6,392.2 487.6,392.4 489.7,391.8 491.7,392.3 493.7,392.2 495.8,392.5 497.8,392.6 499.9,392.2 501.9,392.4 503.9,392.1 506.0,392.3 508.0,392.4 510.0,391.9 512.1,392.3 514.1,392.3 516.1,392.0 518.2,392.0 520.2,392.6 522.3,392.2 524.4,392.2 526.6,392.4 528.7,392.7 530.8,392.6 532.9,392.7 535.1,392.7 537.2,392.7 539.3,393.1 541.3,393.4 543.4,393.0 545.4,393.7 547.4,393.6 549.5,394.4 551.5,394.6 553.5,393.9 555.6,394.7 557.6,394.5 559.6,394.4 561.6,395.4 563.7,395.6 565.7,395.6 567.7,395.7 569.8,396.2 571.8,395.9 573.8,396.2 575.9,396.4 577.9,396.8 579.9,396.8 581.9,396.2 583.9,396.2 586.0,396.5 588.0,396.6 590.0,396.3 592.0,396.9 594.0,396.9 596.0,396.7 598.0,396.6 600.0,396.8 602.1,396.3 604.1,396.9 606.1,396.3 608.1,397.0 610.1,396.8 612.1,396.5 614.1,396.4 616.1,396.8 618.2,396.7 620.2,396.9 622.2,396.4 624.2,397.1 626.2,396.7 628.2,396.7 630.2,397.1 632.2,396.9 634.3,396.8 636.3,396.7 638.3,396.8 640.3,396.9 640.3,429.2 638.3,428.8 636.3,429.3 634.3,428.8 632.3,428.6 630.3,428.8 628.3,429.2 626.3,429.3 624.3,428.7 622.3,428.3 620.2,428.9 618.2,429.1 616.2,428.7 614.2,428.5 612.2,428.2 610.2,428.7 608.2,428.1 606.2,428.2 604.2,428.5 602.2,428.0 600.2,428.5 598.2,427.7 596.2,428.0 594.2,427.5 592.2,427.8 590.2,427.4 588.2,427.9 586.2,427.3 584.2,427.7 582.2,427.6 580.1,427.2 578.1,427.2 576.1,427.0 574.1,427.4 572.1,427.3 570.1,427.6 568.1,427.4 566.1,427.5 564.1,427.1 562.1,426.9 560.1,427.4 558.1,426.7 556.1,426.5 554.1,426.9 552.1,427.1 550.1,426.8 548.1,427.0 546.1,427.0 544.1,426.8 542.1,426.8 540.0,426.6 538.0,425.9 536.0,426.6 534.0,426.6 532.0,426.4 530.0,426.0 528.0,426.4 526.0,425.7 524.0,425.6 522.0,425.5 520.0,426.4 517.9,425.9 515.8,425.7 513.7,426.4 511.6,426.4 509.5,426.2 507.3,426.0 505.2,425.7 503.1,426.2 501.0,426.2 498.9,426.5 496.8,426.0 494.7,426.0 492.5,425.4 490.4,425.0 488.3,425.3 486.2,425.5 484.0,425.2 481.9,424.4 479.8,424.8 477.7,424.5 475.5,424.3 473.4,423.8 471.3,423.7 469.2,423.7 467.0,423.7 464.9,423.4 462.8,422.5 460.7,422.3 458.6,422.6 456.5,422.6 454.3,421.8 452.2,422.2 450.1,421.1 448.0,421.7 445.8,421.1 443.7,420.4 441.6,420.4 439.5,420.5 437.3,420.2 435.2,420.0 433.1,420.0 431.0,420.0 428.8,419.0 426.7,419.0 424.6,419.2 422.5,418.9 420.3,418.7 418.2,419.1 416.1,418.4 414.0,418.6 411.9,418.5 409.8,418.0 407.6,418.4 405.5,417.8 403.4,417.8 401.2,417.7 398.9,417.9 396.7,418.8 394.5,419.0 392.2,418.4 390.0,418.8 387.8,418.5 385.6,418.3 383.4,417.4 381.2,417.4 379.0,416.8 376.8,415.9 374.6,415.9 372.4,415.4 370.2,414.7 368.1,413.8 365.9,413.5 363.8,413.4 361.7,413.1 359.6,412.5 357.4,411.6 355.3,412.0 353.2,411.2 351.1,410.3 348.9,410.3 346.8,409.8 344.6,409.8 342.5,409.7 340.3,409.3 338.1,408.4 336.0,408.1 333.8,408.3 331.7,408.5 329.5,408.1 327.3,407.3 325.2,407.6 323.0,407.1 320.9,407.1 318.8,406.5 316.7,406.1 314.6,406.0 312.5,405.5 310.5,405.0 308.4,405.0 306.3,405.0 304.2,404.3 302.1,404.1 300.0,403.8 297.9,404.0 295.8,403.5 293.6,403.5 291.5,403.0 289.4,403.3 287.3,402.2 285.2,402.8 283.1,402.4 280.9,402.2 278.8,402.2 276.7,401.2 274.6,401.5 272.5,401.5 270.4,402.6 268.4,402.4 266.3,402.6 264.2,402.6 262.1,402.5 260.0,402.8 257.7,402.5 255.5,402.4 253.2,401.7 250.9,401.0 248.7,400.9 246.4,400.2 244.4,400.0 242.4,399.9 240.4,399.1 238.4,398.5 236.3,398.0 234.3,397.5 232.3,396.8 230.3,396.2 228.3,394.9 226.3,393.8 224.3,393.6 222.3,393.0 220.3,392.0 218.2,391.5 216.2,390.0 214.2,389.0 212.2,387.7 210.2,386.8 208.2,386.0 206.2,384.8 204.2,383.4 202.2,383.0 200.2,382.2 198.2,381.7 196.2,380.4 194.2,380.1 192.2,378.8 190.1,378.6 188.1,377.7 186.1,376.2 184.1,376.3 182.1,375.4 180.1,374.0 178.1,373.3 176.1,373.3 174.1,372.4 172.1,371.1 170.1,371.0 168.1,370.3 166.1,369.1 164.1,368.2 162.1,366.9 160.1,366.1 158.1,364.5 156.0,363.6 154.0,362.1 152.0,361.5 150.0,359.5 147.8,359.7 145.7,358.7 143.6,358.5 141.4,357.8 139.2,357.2 137.1,356.5 134.9,356.4 132.8,355.0 130.7,354.5 128.5,354.6 125.9,351.1 123.2,348.0 120.6,345.5" fill="#0000ff" fill-opacity="0.145"/>
<polygon points="120.6,329.8 122.8,331.9 125.0,333.1 128.5,344.0 130.8,344.6 133.2,344.7 135.5,345.5 137.6,346.3 139.6,346.6 141.7,347.5 143.8,348.2 145.9,349.2 147.9,349.1 150.0,349.7 152.0,350.5 154.0,351.1 156.0,351.5 158.1,352.5 160.1,352.3 162.1,353.1 164.1,353.6 166.1,353.8 168.1,354.2 170.1,354.3 172.1,354.3 174.1,354.8 176.1,355.1 178.1,355.2 180.1,354.5 182.1,354.8 184.1,355.7 186.1,355.3 188.1,355.7 190.1,356.1 192.2,357.4 194.2,357.3 196.2,357.6 198.2,357.7 200.2,358.8 202.2,359.2 204.2,359.2 206.2,359.7 208.2,359.7 210.2,359.7 212.2,359.9 214.2,360.3 216.2,360.3 218.2,360.8 220.2,360.6 222.2,360.8 224.3,361.9 226.3,362.0 228.3,362.2 230.3,362.0 232.3,362.4 234.3,362.7 236.3,363.3 238.4,363.1 240.4,363.6 242.4,363.9 244.4,364.5 246.4,364.3 248.7,364.4 250.9,365.2 253.2,366.1 255.5,365.8 257.7,366.6 260.0,366.5 262.1,367.4 264.2,368.4 266.3,368.6 268.4,369.6 270.4,370.4 272.5,370.9 274.6,372.0 276.7,372.7 278.8,372.5 281.0,373.3 283.1,373.6 285.2,373.8 287.3,374.1 289.5,374.4 291.6,374.9 293.7,375.1 295.8,375.0 298.0,375.7 300.1,376.1 302.2,376.2 304.3,376.9 306.5,376.7 308.6,377.2 310.7,377.6 312.8,377.9 314.9,377.8 317.0,378.6 319.2,378.4 321.3,379.1 323.4,379.4 325.5,379.8 327.7,380.2 329.8,380.5 331.9,380.0 334.0,380.9 336.2,380.7 338.3,380.9 340.4,380.7 342.5,381.7 344.7,381.3 346.8,381.6 348.9,381.9 351.1,382.2 353.2,382.5 355.3,382.9 357.4,383.4 359.6,383.6 361.7,384.3 363.8,384.8 365.9,385.1 368.1,384.9 370.2,385.5 372.6,385.8 375.1,386.1 377.6,386.0 380.0,386.1 382.3,387.6 384.7,388.4 387.0,389.1 389.4,390.3 391.7,390.7 394.0,393.2 396.4,395.2 398.7,397.2 401.1,398.2 403.4,400.6 405.5,401.3 407.5,401.2 409.6,402.2 411.7,402.4 413.8,403.0 415.9,403.4 417.9,404.2 420.0,405.3 422.1,405.4 424.1,405.8 426.2,406.3 428.2,405.7 430.3,406.7 432.3,407.0 434.4,407.1 436.4,407.0 438.5,407.1 440.5,407.7 442.6,407.9 444.6,408.0 446.7,408.7 448.8,409.0 450.8,408.9 452.9,409.0 454.9,409.6 457.0,410.1 459.0,410.4 461.1,410.6 463.1,411.1 465.2,411.3 467.2,411.2 469.3,411.8 471.3,412.0 473.4,411.9 475.4,411.8 477.5,412.0 479.5,412.3 481.5,412.3 483.5,411.8 485.6,412.1 487.6,411.6 489.6,412.1 491.6,411.9 493.7,412.2 495.7,412.3 497.7,411.5 499.7,412.4 501.8,411.6 503.8,412.4 505.8,412.4 507.8,411.6 509.9,411.7 511.9,411.5 513.9,412.2 515.9,412.1 518.0,412.3 520.0,412.1 522.0,411.6 524.0,412.0 526.0,411.6 528.0,411.6 530.0,411.7 532.0,411.9 534.0,411.5 536.0,411.7 538.0,411.7 540.0,411.9 542.1,411.6 544.1,411.5 546.1,411.7 548.1,411.6 550.1,411.8 552.1,411.2 554.1,411.2 556.1,411.1 558.1,411.4 560.1,411.8 562.1,411.6 564.1,411.6 566.1,411.9 568.1,411.8 570.1,411.2 572.1,411.1 574.1,411.4 576.1,411.1 578.1,411.5 580.1,410.9 582.2,411.2 584.2,411.5 586.2,411.1 588.2,410.9 590.2,411.5 592.2,411.0 594.2,411.6 596.2,411.3 598.2,411.6 600.2,411.2 602.2,411.2 604.2,410.9 606.2,410.7 608.2,411.6 610.2,410.8 612.2,410.7 614.2,411.5 616.2,411.1 618.2,411.1 620.2,411.5 622.3,411.3 624.3,410.8 626.3,410.8 628.3,411.1 630.3,411.2 632.3,410.7 634.3,410.7 636.3,410.9 638.3,410.5 640.3,410.9 640.3,451.5 638.3,451.4 636.3,451.5 634.3,451.9 632.3,451.7 630.3,451.0 628.3,451.3 626.3,451.3 624.3,451.0 622.2,451.4 620.2,451.3 618.2,451.2 616.2,451.1 614.2,450.8 612.2,451.3 610.2,451.1 608.2,451.0 606.2,451.3 604.2,450.9 602.2,450.7 600.2,451.1 598.2,451.2 596.2,450.8 594.2,451.3 592.2,451.0 590.1,450.5 588.1,450.3 586.1,450.2 584.1,450.8 582.1,450.7 580.1,450.2 578.1,450.6 576.1,450.7 574.1,450.4 572.1,450.7 570.1,450.1 568.1,450.6 566.1,450.1 564.1,450.7 562.1,450.7 560.1,449.8 558.1,449.9 556.0,450.1 554.0,450.2 552.0,450.6 550.0,450.2 548.0,449.9 546.0,450.5 544.0,450.3 542.0,449.6 540.0,449.8 538.0,450.2 536.0,449.3 534.0,449.6 532.0,449.8 530.0,449.8 528.0,449.2 526.0,449.0 524.0,449.1 522.0,448.6 520.0,448.7 517.9,448.7 515.8,448.3 513.7,447.9 511.6,448.1 509.5,447.9 507.3,447.1 505.2,447.4 503.1,446.3 501.0,446.5 498.9,446.1 496.8,445.6 494.7,446.0 492.5,445.8 490.4,445.4 488.3,445.0 486.2,444.3 484.0,443.7 481.9,443.7 479.8,443.4 477.7,442.6 475.5,442.4 473.4,442.8 471.3,442.2 469.2,441.9 467.0,442.2 464.9,441.4 462.8,441.5 460.7,441.1 458.6,441.4 456.5,440.7 454.3,440.3 452.2,440.7 450.1,440.6 448.0,440.3 445.8,440.1 443.7,439.5 441.6,439.6 439.5,439.0 437.3,438.9 435.2,438.5 433.1,438.4 431.0,438.3 428.8,438.4 426.7,437.4 424.6,437.3 422.5,437.0 420.3,436.8 418.2,437.3 416.1,437.2 414.0,436.7 411.9,436.3 409.8,436.6 407.6,435.7 405.5,435.9 403.4,435.7 401.2,434.6 398.9,432.4 396.7,431.6 394.5,430.3 392.2,428.4 390.0,426.9 387.9,427.3 385.8,426.9 383.7,426.1 381.6,426.1 379.5,425.9 377.4,426.1 375.3,425.8 373.2,425.1 371.1,424.9 369.0,424.7 366.9,425.2 364.8,424.1 362.7,424.3 360.6,424.2 358.5,424.1 356.4,423.8 354.2,423.8 352.1,423.3 350.0,423.5 347.9,423.6 345.7,424.3 343.6,423.5 341.5,424.1 339.4,423.5 337.2,423.5 335.1,423.3 333.0,423.5 330.9,423.7 328.9,423.3 326.8,422.8 324.7,422.6 322.6,423.0 320.6,422.9 318.5,422.5 316.4,422.4 314.1,420.1 311.7,417.2 309.4,414.2 307.1,412.1 304.8,409.9 302.4,407.8 300.1,404.7 298.0,404.9 295.8,404.7 293.7,404.9 291.6,404.8 289.5,404.0 287.3,403.7 285.2,403.6 283.1,403.8 281.0,403.4 278.8,403.4 276.7,402.7 274.6,401.8 272.5,400.3 270.4,399.1 268.4,398.4 266.3,396.7 264.2,395.5 262.1,394.3 260.0,393.1 257.7,393.2 255.5,392.3 253.2,392.2 250.9,391.2 248.7,390.4 246.4,389.7 244.3,390.2 242.3,390.6 240.2,390.8 238.2,390.2 236.2,390.8 234.1,390.7 232.1,391.3 230.0,391.4 227.7,391.7 225.5,391.7 223.2,391.2 221.0,392.2 218.7,392.3 216.5,392.2 214.2,392.8 212.2,391.9 210.2,390.1 208.2,389.1 206.2,388.5 204.2,387.9 202.2,386.9 200.2,385.2 198.2,384.2 196.2,384.3 194.2,383.6 192.2,382.8 190.1,382.6 188.1,381.3 186.1,381.2 184.1,380.0 182.1,380.3 180.1,379.6 178.1,379.4 176.1,378.7 174.1,377.8 172.1,377.8 170.1,377.2 168.1,376.6 166.1,376.4 164.1,375.8 162.1,375.3 160.1,375.0 158.1,374.1 156.0,374.0 154.0,373.1 152.0,373.2 150.0,372.8 147.2,370.9 144.3,368.0 142.2,367.4 140.2,365.9 138.2,365.1 136.1,363.6 134.1,362.1 132.0,361.4 129.4,357.0 126.8,352.3 124.7,349.2 122.7,345.8 120.6,342.0" fill="#ff00ff" fill-opacity="0.158"/>
<polygon points="120.6,313.5 122.7,314.5 124.7,315.7 126.8,316.8 129.0,317.1 131.2,317.9 133.3,317.9 135.5,318.3 137.6,318.8 139.6,318.7 141.7,319.2 143.7,319.6 145.8,320.0 147.8,320.0 149.8,320.0 151.8,320.6 153.8,320.2 155.8,320.5 157.8,320.7 159.8,321.1 161.8,320.8 164.1,321.6 166.5,322.5 168.8,323.4 170.9,323.6 173.0,324.3 175.1,324.4 177.2,324.9 179.3,324.9 181.5,325.3 183.7,325.5 185.9,325.2 188.1,325.7 190.2,325.4 192.4,325.8 194.6,326.0 196.8,325.9 199.0,326.2 201.2,326.0 203.4,326.1 205.6,326.5 207.8,326.4 210.0,326.2 212.2,326.4 214.4,326.7 216.5,326.7 218.7,326.7 220.8,327.3 223.0,327.1 225.1,327.6 227.3,327.5 229.4,327.5 231.6,327.8 233.7,328.2 235.9,328.4 238.0,328.3 240.2,328.3 242.4,328.6 244.6,328.6 246.8,328.8 249.0,328.8 251.2,328.9 253.4,329.6 255.5,329.7 257.6,329.6 259.8,329.9 261.9,329.8 264.0,330.4 266.1,330.4 268.2,330.7 270.3,330.6 272.5,330.8 274.6,331.2 276.7,331.1 278.8,331.0 281.0,331.0 283.1,331.5 285.2,331.2 287.3,331.1 289.5,331.4 291.6,331.2 293.7,331.4 295.8,331.6 298.0,331.3 300.1,331.4 302.2,331.7 304.3,331.7 306.5,331.7 308.6,331.2 310.7,331.7 312.8,331.5 314.9,331.2 317.0,331.7 319.2,331.2 321.3,331.7 323.4,331.1 325.4,331.1 327.4,331.3 329.4,331.3 331.4,331.3 333.4,331.4 335.4,330.9 337.4,331.3 339.5,331.0 341.5,331.3 343.5,331.1 345.5,331.1 347.5,330.7 349.5,331.2 351.5,330.8 353.8,331.4 356.1,332.2 358.5,333.1 360.8,333.5 362.9,334.0 365.0,334.5 367.0,334.6 369.1,335.0 371.2,335.5 373.3,336.1 375.3,336.4 377.4,336.5 379.5,337.2 381.6,337.1 383.7,336.9 385.8,336.5 387.9,336.2 390.0,336.6 392.2,336.5 394.5,336.2 396.7,336.5 398.9,336.4 401.2,336.4 403.4,336.2 405.5,336.4 407.6,336.2 409.8,336.2 411.9,336.2 414.0,336.4 416.1,336.5 418.2,336.1 420.3,336.0 422.5,336.1 424.6,336.4 426.7,336.1 428.8,335.9 430.9,336.3 432.9,336.0 435.0,335.7 437.1,336.1 439.2,335.9 441.2,336.0 443.3,335.9 445.4,335.9 447.7,336.9 450.1,337.6 452.4,338.8 454.5,338.5 456.6,338.5 458.7,338.1 460.8,338.3 462.9,337.8 465.0,338.2 467.1,337.6 469.2,337.8 471.3,337.8 473.4,337.7 475.5,337.7 477.7,337.4 479.8,337.2 481.9,337.7 484.0,337.3 486.2,337.7 488.3,337.4 490.4,337.4 492.5,337.4 494.7,337.4 496.8,337.6 498.9,337.5 501.1,337.2 503.2,337.4 505.3,337.1 507.4,337.6 509.6,337.2 511.7,337.3 513.8,337.4 515.9,337.3 518.1,337.6 520.2,337.5 522.3,337.2 524.4,337.3 526.6,337.5 528.7,337.4 530.8,337.4 532.9,337.3 535.1,337.4 537.2,337.4 539.3,337.6 541.4,337.4 543.6,337.8 545.7,337.6 547.9,337.7 550.0,337.8 552.2,338.3 554.3,338.0 556.5,338.2 558.6,338.4 560.7,338.5 562.9,338.5 565.0,338.2 567.2,338.3 569.3,338.5 571.5,338.2 573.6,338.2 575.8,338.6 577.9,338.1 580.1,338.3 582.2,338.5 584.4,339.0 586.5,338.9 588.7,339.1 590.8,339.3 593.0,339.7 595.1,339.3 597.3,339.5 599.4,339.7 601.6,339.9 603.7,339.6 605.9,339.9 608.0,340.0 610.2,339.8 612.3,340.0 614.5,339.9 616.6,340.4 618.8,339.9 621.0,340.1 623.2,340.4 625.4,340.2 627.6,340.5 629.8,340.4 632.0,340.8 634.2,340.8 636.4,340.9 638.5,341.1 640.7,341.5 640.7,350.7 638.5,350.3 636.4,350.1 634.2,350.0 632.0,350.0 629.8,349.5 627.6,349.6 625.4,349.3 623.2,349.5 621.0,349.2 618.8,349.0 616.6,349.5 614.5,348.9 612.3,349.0 610.2,348.8 608.0,349.0 605.9,348.9 603.7,348.6 601.6,348.9 599.4,348.7 597.3,348.5 595.1,348.2 593.0,348.6 590.8,348.2 588.7,348.0 586.5,347.8 584.4,347.9 582.2,347.4 580.1,347.1 577.9,346.9 575.8,347.4 573.6,347.0 571.5,347.0 569.3,347.3 567.2,347.1 565.0,347.0 562.9,347.3 560.7,347.3 558.6,347.2 556.5,346.9 554.3,346.7 552.2,347.0 550.0,346.5 547.9,346.4 545.7,346.2 543.6,346.5 541.4,346.1 539.3,346.3 537.2,346.1 535.1,346.0 532.9,345.9 530.8,346.0 528.7,345.9 526.6,346.1 524.4,345.9 522.3,345.8 520.2,346.0 518.1,346.1 515.9,345.8 513.8,345.9 511.7,345.8 509.6,345.6 507.4,346.0 505.3,345.6 503.2,345.8 501.1,345.6 498.9,345.9 496.8,346.0 494.7,345.8 492.5,345.8 490.4,345.7 488.3,345.7 486.2,346.0 484.0,345.6 481.9,346.0 479.8,345.5 477.7,345.7 475.5,345.9 473.4,345.9 471.3,346.0 469.2,346.0 467.1,345.8 465.0,346.4 462.9,346.0 460.8,346.4 458.7,346.3 456.6,346.6 454.5,346.7 452.4,346.9 450.1,345.7 447.7,345.0 445.4,343.9 443.3,344.0 441.2,344.0 439.2,343.9 437.1,344.1 435.0,343.7 432.9,344.0 430.9,344.3 428.8,343.8 426.7,344.1 424.6,344.3 422.5,344.0 420.3,343.9 418.2,344.0 416.1,344.4 414.0,344.3 411.9,344.0 409.8,344.0 407.6,344.0 405.5,344.2 403.4,344.0 401.2,344.2 398.9,344.1 396.7,344.2 394.5,343.9 392.2,344.2 390.0,344.3 387.9,343.9 385.8,344.1 383.7,344.6 381.6,344.8 379.5,344.8 377.4,344.1 375.3,344.0 373.3,343.7 371.2,343.1 369.1,342.5 367.0,342.2 365.0,342.0 362.9,341.5 360.8,341.0 358.5,340.6 356.1,339.7 353.8,338.8 351.5,338.2 349.5,338.6 347.5,338.1 345.5,338.5 343.5,338.5 341.5,338.7 339.5,338.3 337.4,338.6 335.4,338.2 333.4,338.7 331.4,338.6 329.4,338.6 327.4,338.5 325.4,338.3 323.4,338.3 321.3,338.9 319.2,338.4 317.0,338.9 314.9,338.4 312.8,338.6 310.7,338.8 308.6,338.3 306.5,338.8 304.3,338.8 302.2,338.8 300.1,338.5 298.0,338.3 295.8,338.6 293.7,338.3 291.6,338.1 289.5,338.3 287.3,338.0 285.2,338.1 283.1,338.4 281.0,337.9 278.8,337.8 276.7,337.9 274.6,338.0 272.5,337.6 270.3,337.4 268.2,337.4 266.1,337.2 264.0,337.1 261.9,336.5 259.8,336.6 257.6,336.2 255.5,336.4 253.4,336.3 251.2,335.5 249.0,335.4 246.8,335.4 244.6,335.1 242.4,335.1 240.2,334.8 238.0,334.8 235.9,334.8 233.7,334.6 231.6,334.2 229.4,333.9 227.3,333.8 225.1,334.0 223.0,333.5 220.8,333.6 218.7,333.0 216.5,333.0 214.4,332.9 212.2,332.6 210.0,332.4 207.8,332.6 205.6,332.7 203.4,332.3 201.2,332.1 199.0,332.3 196.8,331.9 194.6,332.1 192.4,331.8 190.2,331.4 188.1,331.7 185.9,331.1 183.7,331.4 181.5,331.1 179.3,330.8 177.2,330.7 175.1,330.2 173.0,330.1 170.9,329.3 168.8,329.1 166.5,328.1 164.1,327.2 161.8,326.4 159.8,326.7 157.8,326.2 155.8,326.0 153.8,325.6 151.8,326.1 149.8,325.4 147.8,325.4 145.8,325.4 143.7,324.9 141.7,324.4 139.6,323.9 137.6,324.0 135.5,323.4 133.3,323.0 131.2,322.9 129.0,322.1 126.8,321.7 124.7,320.5 122.7,319.3 120.6,318.1" fill="#000" fill-opacity="0.15"/>
<polyline points="120.6,315.8 122.1,316.7 123.7,317.8 125.2,318.6 126.8,319.5 128.5,319.7 130.3,320.3 132.0,320.2 133.8,320.7 135.5,321.4 137.0,321.5 138.6,321.4 140.1,321.9 141.7,322.1 143.2,322.0 144.7,322.3 146.3,322.8 147.8,322.7 149.4,322.8 150.9,323.0 152.5,322.8 154.0,323.0 155.6,323.7 157.1,323.2 158.7,323.7 160.2,323.2 161.8,323.5 163.6,324.4 165.3,324.9 167.1,326.0 168.8,326.7 170.3,326.4 171.8,326.5 173.3,327.4 174.8,327.5 176.3,327.5 177.8,327.4 179.3,327.6 180.9,328.2 182.5,328.3 184.1,328.2 185.7,328.2 187.3,328.2 188.8,328.4 190.4,328.5 192.0,328.7 193.6,328.7 195.2,328.7 196.8,328.7 198.4,329.1 200.0,329.4 201.6,328.9 203.2,329.4 204.8,329.4 206.4,329.2 208.0,329.2 209.6,329.8 211.2,329.4 212.8,329.4 214.4,329.5 216.0,330.2 217.5,329.9 219.1,329.7 220.7,330.1 222.3,330.4 223.8,330.5 225.4,330.3 227.0,331.0 228.6,331.0 230.1,330.8 231.7,330.9 233.3,331.0 234.9,330.9 236.4,331.5 238.0,331.3 239.5,331.7 241.1,332.0 242.6,331.7 244.2,331.8 245.7,332.0 247.2,332.2 248.8,332.0 250.3,332.4 251.9,332.4 253.4,332.4 255.0,333.1 256.5,333.1 258.1,333.1 259.6,332.9 261.2,333.5 262.7,333.4 264.3,333.9 265.8,333.8 267.4,333.6 268.9,334.2 270.5,334.2 272.0,334.1 273.6,334.6 275.1,334.3 276.7,334.3 278.3,334.3 279.8,334.7 281.4,334.5 282.9,334.4 284.5,334.4 286.1,335.0 287.6,334.6 289.2,335.1 290.7,335.2 292.3,335.1 293.9,334.7 295.4,335.3 297.0,335.0 298.5,335.3 300.1,335.3 301.7,334.9 303.2,334.9 304.8,335.3 306.3,334.8 307.9,334.7 309.4,334.6 311.0,335.0 312.5,334.8 314.1,335.4 315.6,334.6 317.2,334.9 318.7,335.2 320.3,335.1 321.8,335.3 323.4,335.1 325.0,335.3 326.5,335.3 328.1,335.2 329.6,335.0 331.2,334.8 332.8,334.9 334.3,334.6 335.9,334.6 337.4,334.8 339.0,334.7 340.6,334.7 342.1,334.4 343.7,335.1 345.3,334.6 346.8,334.7 348.4,334.5 349.9,334.7 351.5,334.8 353.1,335.4 354.6,335.6 356.1,336.4 357.7,336.4 359.2,336.9 360.8,337.3 362.4,338.1 363.9,337.7 365.5,338.1 367.0,338.8 368.6,338.6 370.1,338.8 371.7,339.3 373.3,339.7 374.8,340.0 376.4,340.1 377.9,340.5 379.5,340.7 381.0,340.5 382.5,340.7 384.0,340.4 385.5,340.3 387.0,340.7 388.5,340.6 390.0,340.1 391.7,340.2 393.4,339.9 395.0,339.8 396.7,340.2 398.4,340.6 400.0,339.9 401.7,340.2 403.4,340.4 405.0,339.8 406.5,340.3 408.1,340.0 409.6,340.4 411.2,340.5 412.7,340.5 414.3,340.4 415.8,339.9 417.4,340.3 418.9,340.2 420.5,340.0 422.0,340.0 423.6,340.2 425.1,340.1 426.7,340.1 428.3,340.5 429.8,339.9 431.4,340.4 432.9,339.7 434.5,340.1 436.0,339.9 437.6,339.8 439.2,339.8 440.7,339.5 442.3,339.6 443.8,339.7 445.4,339.5 447.1,340.7 448.9,341.4 450.6,342.1 452.4,342.9 453.9,342.4 455.4,342.2 456.9,342.1 458.4,342.7 459.9,342.3 461.4,342.6 462.9,342.0 464.4,342.0 465.9,342.1 467.4,342.2 468.9,341.8 470.4,341.7 471.9,341.6 473.4,341.4 475.0,341.9 476.5,341.9 478.1,341.5 479.6,341.3 481.2,341.9 482.8,341.6 484.3,341.8 485.9,341.5 487.4,341.3 489.0,341.8 490.6,341.3 492.1,341.9 493.7,341.3 495.2,341.5 496.8,341.2 498.4,341.4 499.9,341.7 501.5,341.3 503.0,341.3 504.6,341.2 506.2,341.2 507.7,341.6 509.3,341.4 510.8,341.8 512.4,341.7 514.0,341.6 515.5,341.9 517.1,342.0 518.6,341.4 520.2,341.8 521.8,341.8 523.4,341.4 525.0,341.9 526.6,341.3 528.2,341.8 529.8,342.0 531.3,341.8 532.9,341.8 534.5,341.8 536.1,341.6 537.7,341.4 539.3,341.6 540.9,341.6 542.5,342.1 544.1,342.3 545.7,342.4 547.3,342.0 549.0,342.6 550.6,342.7 552.2,342.0 553.8,342.6 555.4,342.3 557.0,342.4 558.6,342.8 560.2,343.0 561.8,342.5 563.4,342.7 565.0,342.8 566.6,342.8 568.2,342.5 569.9,342.5 571.5,342.4 573.1,342.7 574.7,343.2 576.3,342.5 577.9,343.0 579.5,343.0 581.1,343.3 582.8,343.4 584.4,342.9 586.0,343.2 587.6,343.8 589.2,343.7 590.8,344.0 592.4,343.5 594.1,344.2 595.7,344.0 597.3,344.4 598.9,344.3 600.5,344.2 602.1,344.3 603.7,344.0 605.3,344.8 607.0,344.7 608.6,344.6 610.2,344.7 611.8,344.8 613.4,344.6 615.0,344.5 616.6,344.8 618.1,345.1 619.7,345.1 621.2,345.1 622.8,344.6 624.3,344.7 625.8,344.8 627.4,345.0 628.9,345.3 630.5,345.2 632.0,345.2 633.7,345.2 635.5,345.2 637.2,345.5 639.0,346.3 640.7,346.1" fill="none" stroke="#000" stroke-width="3.0" stroke-linejoin="round" stroke-linecap="butt"/>
<polyline points="120.6,342.9 122.8,345.5 125.0,347.5 126.8,348.4 128.5,348.8 130.3,349.4 132.0,349.4 133.8,349.4 135.5,349.6 137.1,350.7 138.7,350.6 140.3,350.5 141.9,350.6 143.6,350.9 145.2,351.1 146.8,351.6 148.4,352.0 150.0,352.2 151.6,353.8 153.2,355.8 154.8,356.9 156.4,358.5 158.0,359.6 159.6,359.5 161.2,360.2 162.9,360.3 164.5,361.1 166.1,360.8 167.7,362.0 169.3,363.4 170.9,363.7 172.5,365.0 174.1,365.4 175.7,366.2 177.3,367.4 178.9,368.3 180.5,368.8 182.1,370.1 183.7,370.4 185.3,370.8 186.9,371.6 188.5,372.1 190.1,372.1 191.8,372.4 193.4,373.2 195.0,373.6 196.6,373.8 198.2,374.3 199.8,374.5 201.4,375.4 203.0,375.7 204.6,376.5 206.2,376.4 207.8,377.8 209.4,380.2 211.0,381.5 212.6,381.7 214.2,381.6 215.8,381.7 217.5,381.3 219.1,381.8 220.7,381.5 222.3,381.3 223.9,381.9 225.5,382.6 227.1,383.5 228.7,384.4 230.3,385.2 231.9,385.7 233.5,386.1 235.1,385.9 236.7,386.1 238.3,385.6 239.9,386.4 241.5,386.6 243.1,387.3 244.8,387.2 246.4,387.9 248.0,388.2 249.6,388.9 251.1,388.7 252.7,389.2 254.2,389.4 255.8,389.1 257.3,389.3 258.8,389.6 260.4,389.5 261.9,390.1 263.5,390.2 265.0,389.9 266.6,390.1 268.1,389.5 269.7,390.3 271.2,390.0 272.8,389.4 274.4,389.4 275.9,390.2 277.5,390.2 279.0,390.0 280.6,389.8 282.2,389.6 283.7,389.9 285.3,390.3 286.8,390.0 288.4,389.4 290.1,389.6 291.7,389.5 293.4,390.3 295.1,390.2 296.8,390.3 298.4,389.8 300.1,389.7 301.8,389.6 303.4,390.0 305.1,390.3 306.8,390.5 308.5,390.6 310.1,391.2 311.8,391.5 313.4,391.1 315.1,391.7 316.7,391.3 318.3,391.3 320.0,392.0 321.6,391.4 323.2,391.5 324.8,392.6 326.5,392.2 328.1,392.2 329.7,392.8 331.2,393.2 332.8,392.9 334.3,393.6 335.9,393.2 337.4,394.2 339.0,394.0 340.5,394.2 342.1,394.1 343.7,394.1 345.2,394.4 346.8,394.1 348.3,394.6 349.9,394.9 351.5,394.1 353.0,394.5 354.6,394.3 356.1,394.3 357.7,394.4 359.3,394.1 360.8,394.4 362.4,393.7 363.9,394.1 365.5,393.9 367.2,394.6 369.0,395.7 370.8,397.5 372.5,398.2 374.1,398.9 375.6,399.7 377.1,400.8 378.7,401.4 380.2,401.7 381.8,403.2 383.3,403.6 384.8,404.0 386.3,404.4 387.8,404.8 389.3,404.9 390.9,405.6 392.4,405.4 394.0,404.9 395.6,405.6 397.1,405.3 398.7,405.0 400.3,405.9 401.8,405.3 403.4,405.5 405.0,405.2 406.5,405.6 408.1,405.5 409.6,405.8 411.2,405.9 412.7,405.8 414.3,405.5 415.8,405.2 417.4,405.7 418.9,405.0 420.5,405.0 422.0,405.3 423.6,405.0 425.1,405.2 426.7,404.7 428.3,404.8 429.8,404.6 431.4,405.0 432.9,404.8 434.5,405.4 436.1,404.9 437.6,404.8 439.2,405.3 440.7,404.8 442.3,405.4 443.9,405.1 445.4,404.7 447.0,405.3 448.5,405.6 450.1,404.9 451.8,405.4 453.4,405.7 455.1,406.4 456.8,406.7 458.5,406.0 460.1,406.6 461.8,407.3 463.4,407.0 465.1,407.2 466.7,407.3 468.3,406.9 470.0,407.0 471.6,407.9 473.2,407.5 474.8,407.7 476.5,407.9 478.1,408.2 479.7,408.4 481.2,407.6 482.8,408.2 484.3,407.6 485.9,408.2 487.5,408.6 489.0,408.3 490.6,408.2 492.1,408.8 493.7,408.7 495.2,409.0 496.8,408.6 498.4,408.5 499.9,408.9 501.5,408.7 503.0,408.3 504.6,408.5 506.2,409.3 507.7,409.1 509.3,408.5 510.8,409.3 512.4,409.3 514.0,408.7 515.5,409.6 517.1,408.9 518.6,409.3 520.2,409.5 521.8,409.3 523.4,409.1 525.0,409.3 526.6,409.4 528.2,409.8 529.8,409.7 531.3,409.8 532.9,409.6 534.5,409.3 536.1,409.2 537.7,409.7 539.3,409.7 540.9,409.3 542.5,410.0 544.1,409.8 545.7,409.7 547.3,410.3 549.0,410.9 550.6,410.8 552.2,411.3 553.8,411.5 555.4,411.7 557.0,411.4 558.6,412.2 560.1,411.6 561.6,412.2 563.1,412.1 564.6,412.6 566.2,413.3 567.7,413.4 569.2,413.8 570.7,413.6 572.2,413.8 574.1,413.0 576.0,412.9 577.9,412.8 579.5,412.4 581.1,413.0 582.8,412.6 584.4,413.2 586.0,412.7 587.6,413.6 589.2,412.8 590.8,412.9 592.4,413.5 594.1,413.8 595.7,413.9 597.3,413.7 598.8,414.0 600.4,413.5 601.9,413.6 603.5,413.6 605.0,413.5 606.6,413.3 608.1,413.5 609.7,413.8 611.2,413.9 612.8,413.6 614.4,413.9 615.9,413.6 617.5,414.1 619.0,413.3 620.5,414.1 622.1,414.2 623.6,413.9 625.2,413.9 626.8,414.3 628.3,413.4 629.9,413.4 631.4,413.8 633.0,414.0 634.5,413.8 636.1,413.8 637.6,413.7 639.2,413.8 640.7,413.8" fill="none" stroke="#0000ff" stroke-width="2.9" stroke-linejoin="round" stroke-linecap="butt"/>
<polyline points="120.6,337.7 122.3,338.9 124.1,339.0 126.8,347.5 128.6,349.5 130.3,352.9 132.0,353.4 133.8,355.0 135.5,355.5 137.3,356.9 139.0,357.8 140.6,359.0 142.1,359.2 143.7,360.0 145.3,360.7 146.9,361.2 148.4,362.6 150.0,362.7 151.6,362.9 153.2,363.2 154.8,364.1 156.4,364.6 158.1,364.6 159.7,365.3 161.3,364.9 162.9,365.8 164.5,366.0 166.1,365.8 167.7,365.9 169.3,366.5 170.9,366.7 172.5,367.0 174.1,367.5 175.7,367.3 177.3,367.5 178.9,367.9 180.5,367.9 182.1,368.4 183.7,368.6 185.3,368.3 186.9,368.1 188.6,368.7 190.2,368.1 191.8,368.9 193.4,368.6 195.0,368.2 196.6,368.8 198.2,370.5 199.8,370.5 201.4,372.0 203.0,372.6 204.6,373.5 206.2,373.7 207.8,374.9 209.4,375.1 211.0,376.1 212.6,377.2 214.2,377.5 215.8,376.5 217.4,375.9 219.1,375.5 220.7,375.3 222.3,375.4 223.9,375.2 225.5,375.5 227.1,375.4 228.7,375.7 230.3,375.6 231.8,376.4 233.3,376.0 234.9,376.1 236.4,376.5 237.9,376.2 239.4,376.3 241.0,376.8 242.5,377.3 244.0,377.0 245.6,377.3 247.1,377.7 248.7,378.4 250.2,378.4 251.8,379.1 253.3,379.4 254.9,379.4 256.4,380.0 258.0,380.9 259.6,381.1 261.1,382.4 262.7,382.5 264.3,383.7 265.8,384.4 267.4,385.5 269.0,385.1 270.5,385.4 272.1,386.0 273.6,386.7 275.2,386.6 276.7,387.2 278.3,387.1 279.8,387.8 281.4,387.2 283.0,388.2 284.5,387.7 286.1,387.9 287.6,388.4 289.2,388.5 290.8,389.2 292.3,389.4 293.9,389.4 295.4,389.1 297.0,389.2 298.5,389.6 300.1,389.7 301.6,390.8 303.2,391.9 304.7,393.2 306.3,394.8 307.8,396.1 309.4,397.9 311.1,400.0 312.9,401.4 314.6,402.6 316.4,404.5 318.1,404.4 319.7,403.6 321.4,403.5 323.1,403.8 324.8,404.0 326.4,404.5 328.1,403.5 329.7,404.3 331.2,404.5 332.8,404.1 334.3,404.8 335.9,405.0 337.4,404.3 339.0,405.0 340.5,405.0 342.1,405.4 343.7,404.9 345.2,405.5 346.8,405.0 348.3,405.2 349.9,405.7 351.4,405.7 353.0,406.0 354.5,405.9 356.1,406.8 357.7,406.1 359.2,406.1 360.8,405.9 362.4,406.4 363.9,405.6 365.5,406.3 367.1,405.4 368.6,406.1 370.2,405.5 371.8,405.8 373.5,405.6 375.1,406.3 376.7,405.8 378.4,406.5 380.0,406.5 381.7,407.0 383.3,407.4 385.0,407.6 386.7,407.3 388.4,408.3 390.0,407.9 391.7,408.9 393.4,410.2 395.2,410.6 396.9,411.7 398.7,413.6 400.4,414.7 402.2,416.6 403.9,418.3 405.7,420.0 407.2,419.8 408.7,420.2 410.2,420.4 411.7,420.4 413.2,420.1 414.7,420.8 416.2,420.5 417.7,421.1 419.2,420.7 420.7,420.9 422.2,420.6 423.7,420.8 425.2,421.8 426.7,421.5 428.3,421.9 429.8,421.8 431.4,422.2 432.9,422.1 434.5,421.9 436.1,422.2 437.6,422.7 439.2,422.4 440.7,423.3 442.3,422.6 443.9,423.3 445.4,423.7 447.0,423.7 448.5,423.3 450.1,423.4 451.7,424.2 453.2,424.0 454.8,423.9 456.3,424.0 457.9,424.7 459.4,424.2 461.0,424.7 462.5,425.5 464.1,424.9 465.6,425.7 467.2,425.0 468.7,425.3 470.3,425.3 471.8,426.2 473.4,426.2 475.1,427.5 476.9,428.8 478.6,429.8 480.4,430.4 482.0,430.9 483.7,430.6 485.3,431.5 487.0,431.2 488.6,431.4 490.2,431.9 491.9,432.1 493.5,431.9 495.2,431.8 496.8,432.4 498.4,432.4 499.9,431.8 501.5,432.1 503.0,432.6 504.6,432.7 506.2,432.7 507.7,432.3 509.3,432.0 510.8,432.8 512.4,432.2 514.0,432.6 515.5,432.4 517.1,433.0 518.6,432.5 520.2,432.6 521.8,432.9 523.4,432.7 525.0,432.8 526.6,431.8 528.2,431.7 529.8,432.1 531.3,431.8 532.9,432.1 534.5,431.5 536.1,431.0 537.7,431.3 539.3,430.9 540.9,431.6 542.5,431.7 544.1,431.8 545.7,431.1 547.3,431.6 549.0,431.3 550.6,432.2 552.2,431.4 553.8,432.0 555.4,432.2 557.0,431.7 558.6,432.2 560.2,431.7 561.8,431.6 563.4,431.8 565.0,431.5 566.6,431.9 568.2,432.1 569.9,432.3 571.5,431.6 573.1,431.8 574.7,432.0 576.3,431.5 577.9,431.5 579.5,431.6 581.1,432.0 582.8,431.6 584.4,432.0 586.0,431.3 587.6,431.5 589.2,431.5 590.8,431.4 592.4,431.4 594.1,431.6 595.7,432.0 597.3,431.9 598.9,432.2 600.5,431.4 602.1,431.4 603.7,431.3 605.3,431.5 607.0,431.1 608.6,431.7 610.2,431.3 611.8,430.9 613.4,431.3 615.0,431.2 616.6,430.9 618.2,431.0 619.8,431.3 621.4,431.5 623.0,431.1 624.6,430.7 626.2,430.4 627.9,430.7 629.5,430.5 631.1,430.7 632.7,430.6 634.3,430.4 635.9,430.3 637.5,431.4 639.1,431.8 640.7,431.7" fill="none" stroke="#ff00ff" stroke-width="2.9" stroke-linejoin="round" stroke-linecap="butt"/>
<path d="M120.5 48.3V275 M120 57.2H641" stroke="#111" stroke-width="1.5" fill="none"/>
<path d="M209.8 48.3V57" stroke="#111" stroke-width="1.4"/>
<path d="M299.5 48.3V57" stroke="#111" stroke-width="1.4"/>
<path d="M389.3 48.3V57" stroke="#111" stroke-width="1.4"/>
<path d="M479.4 48.3V57" stroke="#111" stroke-width="1.4"/>
<path d="M569.4 48.3V57" stroke="#111" stroke-width="1.4"/>
<path d="M111.3 57.2H120.5" stroke="#111" stroke-width="1.4"/>
<path d="M111.3 105.6H120.5" stroke="#111" stroke-width="1.4"/>
<path d="M111.3 153.6H120.5" stroke="#111" stroke-width="1.4"/>
<path d="M111.3 201.6H120.5" stroke="#111" stroke-width="1.4"/>
<path d="M111.3 249.6H120.5" stroke="#111" stroke-width="1.4"/>
<path d="M120.5 300V517.7 M111.3 508.8H641" stroke="#111" stroke-width="1.5" fill="none"/>
<path d="M209.8 508.8V517.7" stroke="#111" stroke-width="1.4"/>
<path d="M299.5 508.8V517.7" stroke="#111" stroke-width="1.4"/>
<path d="M389.3 508.8V517.7" stroke="#111" stroke-width="1.4"/>
<path d="M479.4 508.8V517.7" stroke="#111" stroke-width="1.4"/>
<path d="M569.4 508.8V517.7" stroke="#111" stroke-width="1.4"/>
<path d="M111.3 334.9H120.5" stroke="#111" stroke-width="1.4"/>
<path d="M111.3 378.5H120.5" stroke="#111" stroke-width="1.4"/>
<path d="M111.3 422H120.5" stroke="#111" stroke-width="1.4"/>
<path d="M111.3 465.4H120.5" stroke="#111" stroke-width="1.4"/>
<text x="120.8" y="44.6" font-size="20" fill="#000" text-anchor="middle" font-weight="normal" >0</text>
<text x="210.10000000000002" y="44.6" font-size="20" fill="#000" text-anchor="middle" font-weight="normal" >10</text>
<text x="299.8" y="44.6" font-size="20" fill="#000" text-anchor="middle" font-weight="normal" >20</text>
<text x="389.6" y="44.6" font-size="20" fill="#000" text-anchor="middle" font-weight="normal" >30</text>
<text x="479.7" y="44.6" font-size="20" fill="#000" text-anchor="middle" font-weight="normal" >40</text>
<text x="569.6999999999999" y="44.6" font-size="20" fill="#000" text-anchor="middle" font-weight="normal" >50</text>
<text x="120.8" y="536.9" font-size="20" fill="#000" text-anchor="middle" font-weight="normal" >0</text>
<text x="210.10000000000002" y="536.9" font-size="20" fill="#000" text-anchor="middle" font-weight="normal" >10</text>
<text x="299.8" y="536.9" font-size="20" fill="#000" text-anchor="middle" font-weight="normal" >20</text>
<text x="389.6" y="536.9" font-size="20" fill="#000" text-anchor="middle" font-weight="normal" >30</text>
<text x="479.7" y="536.9" font-size="20" fill="#000" text-anchor="middle" font-weight="normal" >40</text>
<text x="569.6999999999999" y="536.9" font-size="20" fill="#000" text-anchor="middle" font-weight="normal" >50</text>
<text x="107.2" y="63.5" font-size="20" fill="#000" text-anchor="end" font-weight="normal" >0</text>
<text x="107.2" y="111.89999999999999" font-size="20" fill="#000" text-anchor="end" font-weight="normal" >-100</text>
<text x="107.2" y="159.9" font-size="20" fill="#000" text-anchor="end" font-weight="normal" >-200</text>
<text x="107.2" y="207.9" font-size="20" fill="#000" text-anchor="end" font-weight="normal" >-300</text>
<text x="107.2" y="255.9" font-size="20" fill="#000" text-anchor="end" font-weight="normal" >-400</text>
<text x="107.2" y="514.0" font-size="20" fill="#000" text-anchor="end" font-weight="normal" >0</text>
<text x="107.2" y="470.59999999999997" font-size="20" fill="#000" text-anchor="end" font-weight="normal" >5</text>
<text x="107.2" y="427.2" font-size="20" fill="#000" text-anchor="end" font-weight="normal" >10</text>
<text x="107.2" y="383.7" font-size="20" fill="#000" text-anchor="end" font-weight="normal" >15</text>
<text x="107.2" y="340.09999999999997" font-size="20" fill="#000" text-anchor="end" font-weight="normal" >20</text>
<text x="347.5" y="17.2" font-size="22" fill="#000" text-anchor="start" font-weight="normal" textLength="77" lengthAdjust="spacingAndGlyphs" >Time (s)</text>
<text x="347" y="562" font-size="22" fill="#000" text-anchor="start" font-weight="normal" textLength="77" lengthAdjust="spacingAndGlyphs" >Time (s)</text>
<text x="0" y="0" font-size="22" fill="#000" text-anchor="start" font-weight="normal" textLength="180" lengthAdjust="spacingAndGlyphs" transform="translate(23.8,259.6) rotate(-90)">Fork Position from</text>
<text x="0" y="0" font-size="22" fill="#000" text-anchor="start" font-weight="normal" textLength="232.3" lengthAdjust="spacingAndGlyphs" transform="translate(52.8,285.6) rotate(-90)">Start of Regression (bp)</text>
<text x="0" y="0" font-size="22" fill="#000" text-anchor="start" font-weight="normal" textLength="155.5" lengthAdjust="spacingAndGlyphs" transform="translate(63.3,487.4) rotate(-90)">Torque (pN·nm)</text>
<text x="455.5" y="80.6" font-size="20" fill="#000" text-anchor="start" font-weight="normal" textLength="207.5" lengthAdjust="spacingAndGlyphs" stroke="#000" stroke-width="0.3" >WT DNAP + WT helicase</text>
<text x="455.5" y="151.3" font-size="20" fill="#0000ff" stroke="#0000ff" stroke-width="0.3" textLength="207.5" lengthAdjust="spacingAndGlyphs">WT DNAP + ΔC<tspan font-size="14" dy="4.5">t</tspan><tspan dy="-4.5"> helicase</tspan></text>
<text x="456.2" y="243" font-size="20" fill="#ff00ff" stroke="#ff00ff" stroke-width="0.3" textLength="213.5" lengthAdjust="spacingAndGlyphs">Exo- DNAP + ΔC<tspan font-size="14" dy="4.5">t</tspan><tspan dy="-4.5"> helicase</tspan></text>
<text x="458.4" y="326.2" font-size="20" fill="#000" text-anchor="start" font-weight="normal" textLength="207.5" lengthAdjust="spacingAndGlyphs" stroke="#000" stroke-width="0.3" >WT DNAP + WT helicase</text>
<text x="458.4" y="392.3" font-size="20" fill="#0000ff" stroke="#0000ff" stroke-width="0.3" textLength="207.5" lengthAdjust="spacingAndGlyphs">WT DNAP + ΔC<tspan font-size="14" dy="4.5">t</tspan><tspan dy="-4.5"> helicase</tspan></text>
<text x="458.4" y="450.8" font-size="20" fill="#ff00ff" stroke="#ff00ff" stroke-width="0.3" textLength="214" lengthAdjust="spacingAndGlyphs">Exo- DNAP + ΔC<tspan font-size="14" dy="4.5">t</tspan><tspan dy="-4.5"> helicase</tspan></text>
<text x="-2" y="22.5" font-size="26" fill="#000" text-anchor="start" font-weight="bold" >a</text>
<text x="-2" y="607.8" font-size="25.5" fill="#000" text-anchor="start" font-weight="bold" >b</text>
<text x="41" y="607.8" font-size="25" fill="#000" text-anchor="start" font-weight="normal" textLength="302.5" lengthAdjust="spacingAndGlyphs" >Replication fork regression:</text>
<text x="228.3" y="653.7" font-size="24.2" fill="#000" text-anchor="start" font-weight="normal" textLength="84.5" lengthAdjust="spacingAndGlyphs" >Regress</text>
<text x="496.8" y="653.3" font-size="24.2" fill="#000" text-anchor="start" font-weight="normal" textLength="86.3" lengthAdjust="spacingAndGlyphs" >Regress</text>
<text x="163.8" y="768.5" font-size="23.2" fill="#000" text-anchor="start" font-weight="normal" textLength="129.5" lengthAdjust="spacingAndGlyphs" >Exo-nuclease</text>
<text x="425.6" y="775.4" font-size="23.8" fill="#000" text-anchor="start" font-weight="normal" textLength="267" lengthAdjust="spacingAndGlyphs" >Chicken-foot-like structure</text>
<text x="421.3" y="710.5" font-size="17.5" fill="#000" text-anchor="start" font-weight="normal" >3’</text>
<polygon points="112.8,646.7 112.9,647.5 113.0,648.3 113.1,649.0 113.3,649.7 113.5,650.3 113.7,650.8 114.1,651.2 114.5,651.5 114.9,651.7 115.4,651.9 116.0,651.9 116.6,651.9 117.2,651.7 117.9,651.6 118.7,651.3 119.4,651.0 120.2,650.7 121.0,650.3 121.8,650.0 122.6,649.7 123.4,649.3 124.1,649.1 124.8,648.9 125.5,648.7 126.1,648.6 126.7,648.6 127.3,648.7 127.7,648.9 128.1,649.2 128.5,649.5 128.8,650.0 129.0,650.6 129.2,651.2 129.4,651.9 129.5,652.7 129.6,653.5 129.6,654.3 129.7,655.2 129.7,656.0 129.8,656.9 129.8,657.7 129.9,658.5 130.0,659.3 130.2,660.0 130.4,660.6 130.7,661.1 131.0,661.6 131.3,661.9 131.8,662.2 132.2,662.3 132.8,662.4 133.4,662.4 134.0,662.3 134.7,662.1 135.4,661.9 136.2,661.6 137.0,661.3 137.7,661.0 138.5,660.6 139.3,660.3 140.1,660.0 140.9,659.7 141.6,659.4 142.3,659.3 143.0,659.2 143.6,659.1 144.1,659.2 144.6,659.3 145.0,659.6 145.4,659.9 145.7,660.4 146.0,660.9 146.2,661.5 146.3,662.2 146.5,662.9 146.6,663.7 146.6,664.5 146.7,665.4 146.7,666.3 146.8,667.1 146.8,668.0 146.9,668.8 147.0,669.6 147.2,670.3 147.3,670.9 147.6,671.5 147.9,672.0 148.2,672.3 148.6,672.6 149.1,672.8 149.6,672.9 150.2,672.9 150.8,672.9 151.5,672.7 152.2,672.5 152.9,672.3 153.7,671.9 154.5,671.6 155.3,671.3 156.1,670.9 156.9,670.6 157.6,670.3 158.4,670.0 159.1,669.8 159.8,669.7 160.4,669.7 160.9,669.7 161.4,669.8 161.9,670.0 162.3,670.3 162.6,670.7 162.9,671.2 163.1,671.8 163.3,672.5 163.4,673.2 159.6,679.4 159.2,679.1 158.8,678.8 158.5,678.3 158.3,677.8 158.1,677.1 157.9,676.4 157.8,675.7 157.7,674.9 157.7,674.0 157.6,673.2 157.6,672.3 157.5,671.4 157.5,670.6 157.4,669.8 157.2,669.0 157.1,668.4 156.9,667.7 156.6,667.2 156.3,666.7 156.0,666.4 155.6,666.1 155.1,666.0 154.5,665.9 154.0,665.9 153.3,666.0 152.6,666.1 151.9,666.4 151.2,666.6 150.4,667.0 149.6,667.3 148.8,667.6 148.0,668.0 147.2,668.3 146.4,668.6 145.7,668.8 145.0,669.0 144.4,669.1 143.8,669.2 143.2,669.1 142.7,669.0 142.3,668.7 141.9,668.4 141.6,667.9 141.3,667.4 141.1,666.8 141.0,666.2 140.8,665.4 140.7,664.6 140.7,663.8 140.6,662.9 140.6,662.1 140.5,661.2 140.5,660.3 140.4,659.5 140.3,658.8 140.1,658.1 140.0,657.4 139.7,656.8 139.4,656.4 139.1,656.0 138.7,655.7 138.2,655.5 137.7,655.4 137.1,655.3 136.5,655.4 135.9,655.6 135.1,655.8 134.4,656.0 133.6,656.3 132.8,656.7 132.0,657.0 131.2,657.4 130.5,657.7 129.7,658.0 128.9,658.2 128.2,658.4 127.6,658.6 126.9,658.6 126.4,658.6 125.9,658.5 125.4,658.3 125.0,658.0 124.7,657.6 124.4,657.1 124.2,656.5 124.0,655.9 123.9,655.1 123.8,654.4 123.7,653.5 123.6,652.7 123.6,651.8 123.5,651.0 123.5,650.1 123.4,649.3 123.3,648.5 123.2,647.8 123.0,647.1 122.8,646.5 122.5,646.0 122.2,645.6 121.8,645.2 121.4,645.0 120.9,644.9 120.3,644.8 119.7,644.9 119.1,645.0 118.4,645.2 117.6,645.4 116.9,645.7 116.1,646.0 115.3,646.4 114.5,646.7 113.7,647.1 112.9,647.4 112.2,647.6" fill="#eef0f0"/><path d="M112.9 648.0L113.4 647.2M113.7 650.7L116.8 645.8M115.4 651.9L119.8 644.9M118.1 651.5L122.0 645.3M121.4 650.1L123.1 647.5M124.7 648.9L123.5 650.8M127.3 648.7L123.8 654.4M128.9 650.1L124.5 657.2M129.5 653.0L126.1 658.6M129.8 656.7L128.7 658.3M130.2 659.9L132.0 657.0M131.4 662.0L135.3 655.7M133.6 662.4L137.9 655.4M136.7 661.4L139.6 656.7M140.0 660.0L140.4 659.5M143.0 659.2L140.6 663.0M145.2 659.7L141.0 666.4M146.3 661.9L142.1 668.6M146.7 665.3L144.3 669.1M146.9 668.9L147.3 668.3M147.7 671.6L150.6 666.9M149.4 672.9L153.7 665.9M152.0 672.6L155.9 666.3M155.3 671.3L157.1 668.4M158.6 670.0L157.5 671.6M161.2 669.7L157.8 675.3M162.8 671.1L158.4 678.2" stroke="#6e7676" stroke-width="1.0" fill="none"/><polyline points="112.8,646.7 112.9,647.5 113.0,648.3 113.1,649.0 113.3,649.7 113.5,650.3 113.7,650.8 114.1,651.2 114.5,651.5 114.9,651.7 115.4,651.9 116.0,651.9 116.6,651.9 117.2,651.7 117.9,651.6 118.7,651.3 119.4,651.0 120.2,650.7 121.0,650.3 121.8,650.0 122.6,649.7 123.4,649.3 124.1,649.1 124.8,648.9 125.5,648.7 126.1,648.6 126.7,648.6 127.3,648.7 127.7,648.9 128.1,649.2 128.5,649.5 128.8,650.0 129.0,650.6 129.2,651.2 129.4,651.9 129.5,652.7 129.6,653.5 129.6,654.3 129.7,655.2 129.7,656.0 129.8,656.9 129.8,657.7 129.9,658.5 130.0,659.3 130.2,660.0 130.4,660.6 130.7,661.1 131.0,661.6 131.3,661.9 131.8,662.2 132.2,662.3 132.8,662.4 133.4,662.4 134.0,662.3 134.7,662.1 135.4,661.9 136.2,661.6 137.0,661.3 137.7,661.0 138.5,660.6 139.3,660.3 140.1,660.0 140.9,659.7 141.6,659.4 142.3,659.3 143.0,659.2 143.6,659.1 144.1,659.2 144.6,659.3 145.0,659.6 145.4,659.9 145.7,660.4 146.0,660.9 146.2,661.5 146.3,662.2 146.5,662.9 146.6,663.7 146.6,664.5 146.7,665.4 146.7,666.3 146.8,667.1 146.8,668.0 146.9,668.8 147.0,669.6 147.2,670.3 147.3,670.9 147.6,671.5 147.9,672.0 148.2,672.3 148.6,672.6 149.1,672.8 149.6,672.9 150.2,672.9 150.8,672.9 151.5,672.7 152.2,672.5 152.9,672.3 153.7,671.9 154.5,671.6 155.3,671.3 156.1,670.9 156.9,670.6 157.6,670.3 158.4,670.0 159.1,669.8 159.8,669.7 160.4,669.7 160.9,669.7 161.4,669.8 161.9,670.0 162.3,670.3 162.6,670.7 162.9,671.2 163.1,671.8 163.3,672.5 163.4,673.2" fill="none" stroke="#d4154a" stroke-width="1.5"/><polyline points="112.2,647.6 112.9,647.4 113.7,647.1 114.5,646.7 115.3,646.4 116.1,646.0 116.9,645.7 117.6,645.4 118.4,645.2 119.1,645.0 119.7,644.9 120.3,644.8 120.9,644.9 121.4,645.0 121.8,645.2 122.2,645.6 122.5,646.0 122.8,646.5 123.0,647.1 123.2,647.8 123.3,648.5 123.4,649.3 123.5,650.1 123.5,651.0 123.6,651.8 123.6,652.7 123.7,653.5 123.8,654.4 123.9,655.1 124.0,655.9 124.2,656.5 124.4,657.1 124.7,657.6 125.0,658.0 125.4,658.3 125.9,658.5 126.4,658.6 126.9,658.6 127.6,658.6 128.2,658.4 128.9,658.2 129.7,658.0 130.5,657.7 131.2,657.4 132.0,657.0 132.8,656.7 133.6,656.3 134.4,656.0 135.1,655.8 135.9,655.6 136.5,655.4 137.1,655.3 137.7,655.4 138.2,655.5 138.7,655.7 139.1,656.0 139.4,656.4 139.7,656.8 140.0,657.4 140.1,658.1 140.3,658.8 140.4,659.5 140.5,660.3 140.5,661.2 140.6,662.1 140.6,662.9 140.7,663.8 140.7,664.6 140.8,665.4 141.0,666.2 141.1,666.8 141.3,667.4 141.6,667.9 141.9,668.4 142.3,668.7 142.7,669.0 143.2,669.1 143.8,669.2 144.4,669.1 145.0,669.0 145.7,668.8 146.4,668.6 147.2,668.3 148.0,668.0 148.8,667.6 149.6,667.3 150.4,667.0 151.2,666.6 151.9,666.4 152.6,666.1 153.3,666.0 154.0,665.9 154.5,665.9 155.1,666.0 155.6,666.1 156.0,666.4 156.3,666.7 156.6,667.2 156.9,667.7 157.1,668.4 157.2,669.0 157.4,669.8 157.5,670.6 157.5,671.4 157.6,672.3 157.6,673.2 157.7,674.0 157.7,674.9 157.8,675.7 157.9,676.4 158.1,677.1 158.3,677.8 158.5,678.3 158.8,678.8 159.2,679.1 159.6,679.4" fill="none" stroke="#d4154a" stroke-width="1.5"/>
<polygon points="114.6,761.5 115.1,761.7 115.7,761.7 116.2,761.6 116.7,761.4 117.1,761.1 117.5,760.7 117.8,760.2 118.1,759.7 118.3,759.0 118.6,758.3 118.8,757.5 119.0,756.7 119.1,755.8 119.3,755.0 119.5,754.1 119.7,753.3 119.9,752.5 120.1,751.7 120.3,751.1 120.6,750.5 120.9,749.9 121.3,749.5 121.7,749.2 122.1,749.0 122.6,748.9 123.2,748.9 123.8,748.9 124.4,749.1 125.0,749.4 125.7,749.7 126.4,750.1 127.2,750.5 127.9,750.9 128.7,751.4 129.4,751.9 130.1,752.3 130.9,752.7 131.5,753.0 132.2,753.3 132.8,753.5 133.4,753.6 134.0,753.6 134.5,753.6 135.0,753.4 135.4,753.1 135.8,752.7 136.1,752.2 136.4,751.7 136.7,751.0 136.9,750.3 137.1,749.5 137.3,748.7 137.4,747.8 137.6,747.0 137.8,746.1 138.0,745.3 138.2,744.5 138.4,743.7 138.6,743.1 138.9,742.4 139.2,741.9 139.6,741.5 140.0,741.2 140.4,741.0 140.9,740.8 141.5,740.8 142.1,740.9 142.7,741.1 143.3,741.3 144.0,741.7 144.7,742.0 145.5,742.5 146.2,742.9 146.9,743.4 147.7,743.8 148.4,744.3 149.1,744.6 149.8,745.0 150.5,745.3 151.1,745.5 151.7,745.6 152.3,745.6 152.8,745.5 153.3,745.4 153.7,745.1 154.1,744.7 154.4,744.2 154.7,743.7 155.0,743.0 155.2,742.3 155.4,741.5 155.6,740.7 155.8,739.8 155.9,739.0 156.1,738.1 156.3,737.3 156.5,736.5 156.7,735.7 156.9,735.0 157.2,734.4 157.5,733.9 157.9,733.5 158.3,733.2 158.7,732.9 159.2,732.8 159.8,732.8 160.3,732.9 161.0,733.0 161.6,733.3 162.3,733.6 163.0,734.0 163.7,734.4 164.5,734.9 165.2,735.3 166.0,735.8 166.7,736.2 167.4,736.6 168.1,737.0 168.8,737.2 169.4,737.4 170.0,737.6 170.6,737.6 171.1,737.5 171.6,737.4 172.0,737.1 172.4,736.7 172.7,736.2 173.0,735.6 173.3,735.0 173.5,734.3 173.7,733.5 173.9,732.7 174.1,731.8 174.2,731.0 174.4,730.1 174.6,729.3 174.8,728.5 175.0,727.7 175.2,727.0 175.5,726.4 175.8,725.9 176.2,725.5 176.6,725.1 177.0,724.9 177.5,724.8 178.1,724.8 178.6,724.8 179.3,725.0 179.9,725.3 180.6,725.6 181.3,726.0 182.0,726.4 182.8,726.8 183.5,727.3 184.3,727.7 185.0,728.2 185.7,728.6 186.4,728.9 187.1,729.2 187.7,729.4 188.3,729.5 188.9,729.6 189.4,729.5 189.9,729.3 190.3,729.1 190.7,728.7 191.0,728.2 191.3,727.6 191.6,727.0 191.8,726.3 192.0,725.5 192.2,724.7 192.4,723.8 192.6,723.0 192.7,722.1 192.9,721.3 193.1,720.5 193.3,719.7 193.6,719.0 193.8,718.4 194.1,717.9 194.5,717.5 194.9,717.1 195.3,716.9 195.8,716.8 196.4,716.7 196.9,716.8 197.6,717.0 198.2,717.2 198.9,717.5 199.6,717.9 200.3,718.3 201.1,718.8 201.8,719.2 202.6,719.7 203.3,720.1 204.0,720.5 204.7,720.9 205.4,721.2 206.0,721.4 206.6,721.5 207.2,721.5 207.7,721.5 208.2,721.3 208.6,721.0 209.0,720.7 209.3,720.2 209.6,719.6 209.9,719.0 210.1,718.3 210.3,717.5 210.5,716.7 208.3,711.6 207.8,711.6 207.2,711.7 206.8,711.9 206.4,712.2 206.0,712.6 205.7,713.1 205.4,713.7 205.1,714.3 204.9,715.1 204.7,715.8 204.5,716.7 204.3,717.5 204.2,718.4 204.0,719.2 203.8,720.1 203.6,720.9 203.4,721.6 203.2,722.3 202.9,722.9 202.5,723.4 202.2,723.8 201.8,724.1 201.3,724.3 200.8,724.4 200.3,724.4 199.7,724.3 199.1,724.2 198.4,723.9 197.7,723.6 197.0,723.2 196.3,722.8 195.5,722.3 194.8,721.9 194.0,721.4 193.3,721.0 192.6,720.6 191.9,720.2 191.2,720.0 190.6,719.8 190.0,719.7 189.5,719.6 188.9,719.7 188.5,719.9 188.1,720.2 187.7,720.6 187.4,721.1 187.1,721.7 186.8,722.3 186.6,723.1 186.4,723.8 186.2,724.7 186.0,725.5 185.9,726.4 185.7,727.2 185.5,728.1 185.3,728.9 185.1,729.6 184.8,730.3 184.6,730.9 184.2,731.4 183.9,731.8 183.5,732.1 183.0,732.3 182.5,732.4 182.0,732.5 181.4,732.4 180.8,732.2 180.1,731.9 179.4,731.6 178.7,731.2 178.0,730.8 177.2,730.4 176.5,729.9 175.7,729.4 175.0,729.0 174.3,728.6 173.6,728.3 172.9,728.0 172.3,727.8 171.7,727.7 171.2,727.7 170.6,727.7 170.2,727.9 169.8,728.2 169.4,728.6 169.1,729.1 168.8,729.7 168.5,730.3 168.3,731.1 168.1,731.8 167.9,732.7 167.7,733.5 167.5,734.4 167.4,735.2 167.2,736.1 167.0,736.9 166.8,737.6 166.5,738.3 166.3,738.9 165.9,739.4 165.6,739.8 165.2,740.1 164.7,740.4 164.2,740.5 163.7,740.5 163.1,740.4 162.5,740.2 161.8,740.0 161.1,739.6 160.4,739.3 159.7,738.8 158.9,738.4 158.2,737.9 157.5,737.5 156.7,737.1 156.0,736.7 155.3,736.3 154.6,736.0 154.0,735.8 153.4,735.7 152.9,735.7 152.3,735.8 151.9,735.9 151.5,736.2 151.1,736.6 150.7,737.1 150.5,737.7 150.2,738.3 150.0,739.1 149.8,739.8 149.6,740.7 149.4,741.5 149.2,742.4 149.1,743.2 148.9,744.1 148.7,744.9 148.5,745.6 148.2,746.3 147.9,746.9 147.6,747.4 147.3,747.8 146.9,748.2 146.4,748.4 145.9,748.5 145.4,748.5 144.8,748.4 144.2,748.3 143.5,748.0 142.8,747.7 142.1,747.3 141.4,746.9 140.7,746.4 139.9,746.0 139.2,745.5 138.4,745.1 137.7,744.7 137.0,744.3 136.3,744.1 135.7,743.9 135.1,743.7 134.6,743.7 134.0,743.8 133.6,744.0 133.2,744.2 132.8,744.6 132.4,745.1 132.1,745.7 131.9,746.3 131.7,747.1 131.5,747.8 131.3,748.7 131.1,749.5 130.9,750.4 130.8,751.2 130.6,752.1 130.4,752.9 130.2,753.6 129.9,754.3 129.6,754.9 129.3,755.4 129.0,755.8 128.6,756.2 128.1,756.4 127.6,756.5 127.1,756.5 126.5,756.5 125.9,756.3 125.2,756.0 124.5,755.7 123.8,755.4 123.1,754.9 122.4,754.5 121.6,754.0 120.9,753.6 120.1,753.1 119.4,752.7 118.7,752.4 118.1,752.1 117.4,751.9 116.8,751.8 116.3,751.7 115.7,751.8 115.3,752.0 114.8,752.3 114.5,752.6 114.1,753.1 113.8,753.7 113.6,754.3 113.3,755.1 113.1,755.8 113.0,756.6 112.8,757.5" fill="#eef0f0"/><path d="M115.5 761.7L113.1 756.1M117.4 760.8L114.1 753.2M118.6 758.3L115.7 751.8M119.3 754.8L118.2 752.2M120.2 751.4L121.2 753.8M121.5 749.3L124.3 755.6M123.7 748.9L127.0 756.5M126.5 750.1L129.0 755.8M129.6 752.0L130.2 753.4M132.5 753.4L131.0 750.0M134.8 753.5L131.8 746.6M136.4 751.8L133.1 744.3M137.3 748.6L135.1 743.7M138.0 745.1L137.9 744.8M139.0 742.2L141.0 746.6M140.8 740.9L144.0 748.2M143.2 741.3L146.4 748.4M146.2 742.9L148.0 746.8M149.3 744.7L148.9 743.8M152.0 745.6L149.7 740.3M154.0 744.8L150.6 737.3M155.2 742.4L152.3 735.8M155.9 738.9L154.7 736.1M156.8 735.5L157.7 737.6M158.1 733.3L160.8 739.5M160.2 732.8L163.5 740.5M162.9 734.0L165.5 739.9M166.1 735.8L166.8 737.5M169.0 737.3L167.6 734.1M171.4 737.4L168.4 730.7M172.9 735.8L169.7 728.3M173.9 732.8L171.7 727.7M174.6 729.2L174.4 728.7M175.6 726.3L177.5 730.5M177.3 724.8L180.5 732.1M179.7 725.2L182.9 732.4M182.7 726.8L184.5 730.9M185.8 728.6L185.5 727.9M188.5 729.6L186.3 724.4M190.5 728.9L187.2 721.3M191.8 726.5L188.8 719.8M192.5 723.0L191.2 720.0M193.3 719.6L194.2 721.5M194.6 717.3L197.3 723.3M196.7 716.8L200.0 724.4M199.4 717.8L202.1 723.9M202.5 719.7L203.4 721.6M205.5 721.2L204.2 718.2M207.9 721.4L205.0 714.8M209.5 719.9L206.2 712.3" stroke="#6e7676" stroke-width="1.0" fill="none"/><polyline points="114.6,761.5 115.1,761.7 115.7,761.7 116.2,761.6 116.7,761.4 117.1,761.1 117.5,760.7 117.8,760.2 118.1,759.7 118.3,759.0 118.6,758.3 118.8,757.5 119.0,756.7 119.1,755.8 119.3,755.0 119.5,754.1 119.7,753.3 119.9,752.5 120.1,751.7 120.3,751.1 120.6,750.5 120.9,749.9 121.3,749.5 121.7,749.2 122.1,749.0 122.6,748.9 123.2,748.9 123.8,748.9 124.4,749.1 125.0,749.4 125.7,749.7 126.4,750.1 127.2,750.5 127.9,750.9 128.7,751.4 129.4,751.9 130.1,752.3 130.9,752.7 131.5,753.0 132.2,753.3 132.8,753.5 133.4,753.6 134.0,753.6 134.5,753.6 135.0,753.4 135.4,753.1 135.8,752.7 136.1,752.2 136.4,751.7 136.7,751.0 136.9,750.3 137.1,749.5 137.3,748.7 137.4,747.8 137.6,747.0 137.8,746.1 138.0,745.3 138.2,744.5 138.4,743.7 138.6,743.1 138.9,742.4 139.2,741.9 139.6,741.5 140.0,741.2 140.4,741.0 140.9,740.8 141.5,740.8 142.1,740.9 142.7,741.1 143.3,741.3 144.0,741.7 144.7,742.0 145.5,742.5 146.2,742.9 146.9,743.4 147.7,743.8 148.4,744.3 149.1,744.6 149.8,745.0 150.5,745.3 151.1,745.5 151.7,745.6 152.3,745.6 152.8,745.5 153.3,745.4 153.7,745.1 154.1,744.7 154.4,744.2 154.7,743.7 155.0,743.0 155.2,742.3 155.4,741.5 155.6,740.7 155.8,739.8 155.9,739.0 156.1,738.1 156.3,737.3 156.5,736.5 156.7,735.7 156.9,735.0 157.2,734.4 157.5,733.9 157.9,733.5 158.3,733.2 158.7,732.9 159.2,732.8 159.8,732.8 160.3,732.9 161.0,733.0 161.6,733.3 162.3,733.6 163.0,734.0 163.7,734.4 164.5,734.9 165.2,735.3 166.0,735.8 166.7,736.2 167.4,736.6 168.1,737.0 168.8,737.2 169.4,737.4 170.0,737.6 170.6,737.6 171.1,737.5 171.6,737.4 172.0,737.1 172.4,736.7 172.7,736.2 173.0,735.6 173.3,735.0 173.5,734.3 173.7,733.5 173.9,732.7 174.1,731.8 174.2,731.0 174.4,730.1 174.6,729.3 174.8,728.5 175.0,727.7 175.2,727.0 175.5,726.4 175.8,725.9 176.2,725.5 176.6,725.1 177.0,724.9 177.5,724.8 178.1,724.8 178.6,724.8 179.3,725.0 179.9,725.3 180.6,725.6 181.3,726.0 182.0,726.4 182.8,726.8 183.5,727.3 184.3,727.7 185.0,728.2 185.7,728.6 186.4,728.9 187.1,729.2 187.7,729.4 188.3,729.5 188.9,729.6 189.4,729.5 189.9,729.3 190.3,729.1 190.7,728.7 191.0,728.2 191.3,727.6 191.6,727.0 191.8,726.3 192.0,725.5 192.2,724.7 192.4,723.8 192.6,723.0 192.7,722.1 192.9,721.3 193.1,720.5 193.3,719.7 193.6,719.0 193.8,718.4 194.1,717.9 194.5,717.5 194.9,717.1 195.3,716.9 195.8,716.8 196.4,716.7 196.9,716.8 197.6,717.0 198.2,717.2 198.9,717.5 199.6,717.9 200.3,718.3 201.1,718.8 201.8,719.2 202.6,719.7 203.3,720.1 204.0,720.5 204.7,720.9 205.4,721.2 206.0,721.4 206.6,721.5 207.2,721.5 207.7,721.5 208.2,721.3 208.6,721.0 209.0,720.7 209.3,720.2 209.6,719.6 209.9,719.0 210.1,718.3 210.3,717.5 210.5,716.7" fill="none" stroke="#d4154a" stroke-width="1.5"/><polyline points="112.8,757.5 113.0,756.6 113.1,755.8 113.3,755.1 113.6,754.3 113.8,753.7 114.1,753.1 114.5,752.6 114.8,752.3 115.3,752.0 115.7,751.8 116.3,751.7 116.8,751.8 117.4,751.9 118.1,752.1 118.7,752.4 119.4,752.7 120.1,753.1 120.9,753.6 121.6,754.0 122.4,754.5 123.1,754.9 123.8,755.4 124.5,755.7 125.2,756.0 125.9,756.3 126.5,756.5 127.1,756.5 127.6,756.5 128.1,756.4 128.6,756.2 129.0,755.8 129.3,755.4 129.6,754.9 129.9,754.3 130.2,753.6 130.4,752.9 130.6,752.1 130.8,751.2 130.9,750.4 131.1,749.5 131.3,748.7 131.5,747.8 131.7,747.1 131.9,746.3 132.1,745.7 132.4,745.1 132.8,744.6 133.2,744.2 133.6,744.0 134.0,743.8 134.6,743.7 135.1,743.7 135.7,743.9 136.3,744.1 137.0,744.3 137.7,744.7 138.4,745.1 139.2,745.5 139.9,746.0 140.7,746.4 141.4,746.9 142.1,747.3 142.8,747.7 143.5,748.0 144.2,748.3 144.8,748.4 145.4,748.5 145.9,748.5 146.4,748.4 146.9,748.2 147.3,747.8 147.6,747.4 147.9,746.9 148.2,746.3 148.5,745.6 148.7,744.9 148.9,744.1 149.1,743.2 149.2,742.4 149.4,741.5 149.6,740.7 149.8,739.8 150.0,739.1 150.2,738.3 150.5,737.7 150.7,737.1 151.1,736.6 151.5,736.2 151.9,735.9 152.3,735.8 152.9,735.7 153.4,735.7 154.0,735.8 154.6,736.0 155.3,736.3 156.0,736.7 156.7,737.1 157.5,737.5 158.2,737.9 158.9,738.4 159.7,738.8 160.4,739.3 161.1,739.6 161.8,740.0 162.5,740.2 163.1,740.4 163.7,740.5 164.2,740.5 164.7,740.4 165.2,740.1 165.6,739.8 165.9,739.4 166.3,738.9 166.5,738.3 166.8,737.6 167.0,736.9 167.2,736.1 167.4,735.2 167.5,734.4 167.7,733.5 167.9,732.7 168.1,731.8 168.3,731.1 168.5,730.3 168.8,729.7 169.1,729.1 169.4,728.6 169.8,728.2 170.2,727.9 170.6,727.7 171.2,727.7 171.7,727.7 172.3,727.8 172.9,728.0 173.6,728.3 174.3,728.6 175.0,729.0 175.7,729.4 176.5,729.9 177.2,730.4 178.0,730.8 178.7,731.2 179.4,731.6 180.1,731.9 180.8,732.2 181.4,732.4 182.0,732.5 182.5,732.4 183.0,732.3 183.5,732.1 183.9,731.8 184.2,731.4 184.6,730.9 184.8,730.3 185.1,729.6 185.3,728.9 185.5,728.1 185.7,727.2 185.9,726.4 186.0,725.5 186.2,724.7 186.4,723.8 186.6,723.1 186.8,722.3 187.1,721.7 187.4,721.1 187.7,720.6 188.1,720.2 188.5,719.9 188.9,719.7 189.5,719.6 190.0,719.7 190.6,719.8 191.2,720.0 191.9,720.2 192.6,720.6 193.3,721.0 194.0,721.4 194.8,721.9 195.5,722.3 196.3,722.8 197.0,723.2 197.7,723.6 198.4,723.9 199.1,724.2 199.7,724.3 200.3,724.4 200.8,724.4 201.3,724.3 201.8,724.1 202.2,723.8 202.5,723.4 202.9,722.9 203.2,722.3 203.4,721.6 203.6,720.9 203.8,720.1 204.0,719.2 204.2,718.4 204.3,717.5 204.5,716.7 204.7,715.8 204.9,715.1 205.1,714.3 205.4,713.7 205.7,713.1 206.0,712.6 206.4,712.2 206.8,711.9 207.2,711.7 207.8,711.6 208.3,711.6" fill="none" stroke="#d4154a" stroke-width="1.5"/>
<polygon points="232.0,710.4 232.5,711.0 233.0,711.5 233.5,711.9 234.0,712.3 234.5,712.4 235.0,712.5 235.5,712.4 236.0,712.2 236.5,711.9 237.0,711.5 237.5,711.0 238.0,710.4 238.5,709.7 238.9,709.0 239.4,708.2 239.9,707.4 240.4,706.7 240.9,705.9 241.4,705.2 241.9,704.6 242.4,704.0 242.9,703.6 243.4,703.2 243.9,703.0 244.4,702.9 244.9,702.9 245.4,703.1 245.9,703.3 246.4,703.7 246.9,704.2 247.4,704.8 247.9,705.5 248.4,706.2 248.9,706.9 249.4,707.7 249.9,708.5 250.4,709.2 250.9,710.0 251.4,710.6 251.9,711.2 252.3,711.7 252.8,712.1 253.3,712.3 253.8,712.5 254.3,712.5 254.8,712.4 255.3,712.2 255.8,711.8 256.3,711.4 256.8,710.8 257.3,710.2 257.8,709.5 258.3,708.7 258.8,708.0 259.3,707.2 259.8,706.4 260.3,705.7 260.8,705.0 261.3,704.4 261.8,703.9 262.3,703.5 262.8,703.2 263.3,703.0 263.8,702.9 264.3,703.0 264.8,703.1 265.3,703.5 265.7,703.9 266.2,704.4 266.7,705.0 267.2,705.7 267.7,706.4 268.2,707.2 268.7,708.0 269.2,708.7 269.7,709.5 270.2,710.2 270.7,710.8 271.2,711.4 271.7,711.8 272.2,712.2 272.7,712.4 273.2,712.5 273.7,712.5 274.2,712.3 274.7,712.1 275.2,711.7 275.7,711.2 276.2,710.6 276.7,710.0 277.2,709.2 277.7,708.5 278.2,707.7 278.7,706.9 279.1,706.2 279.6,705.5 280.1,704.8 280.6,704.2 281.1,703.7 281.6,703.4 282.1,703.1 282.6,702.9 283.1,702.9 283.6,703.0 284.1,703.2 284.6,703.6 285.1,704.0 285.6,704.6 286.1,705.2 286.6,705.9 287.1,706.6 287.6,707.4 288.1,708.2 288.6,709.0 289.1,709.7 289.6,710.4 290.1,711.0 290.6,711.5 291.1,711.9 291.6,712.2 292.1,712.4 292.5,712.5 293.0,712.4 293.5,712.3 294.0,712.0 294.5,711.5 295.0,711.0 295.5,710.4 296.0,709.7 296.5,709.0 297.0,708.3 297.5,707.5 298.0,706.7 298.5,706.0 299.0,705.3 299.0,706.1 298.5,705.4 298.0,704.7 297.5,704.2 297.0,703.7 296.5,703.3 296.0,703.1 295.5,702.9 295.0,702.9 294.5,703.0 294.0,703.3 293.5,703.6 293.0,704.1 292.5,704.7 292.1,705.3 291.6,706.0 291.1,706.8 290.6,707.5 290.1,708.3 289.6,709.1 289.1,709.8 288.6,710.5 288.1,711.1 287.6,711.6 287.1,712.0 286.6,712.3 286.1,712.4 285.6,712.5 285.1,712.4 284.6,712.2 284.1,711.9 283.6,711.5 283.1,710.9 282.6,710.3 282.1,709.6 281.6,708.9 281.1,708.1 280.6,707.4 280.1,706.6 279.6,705.8 279.1,705.2 278.7,704.5 278.2,704.0 277.7,703.5 277.2,703.2 276.7,703.0 276.2,702.9 275.7,702.9 275.2,703.1 274.7,703.4 274.2,703.8 273.7,704.3 273.2,704.9 272.7,705.5 272.2,706.2 271.7,707.0 271.2,707.8 270.7,708.5 270.2,709.3 269.7,710.0 269.2,710.7 268.7,711.2 268.2,711.7 267.7,712.1 267.2,712.3 266.7,712.5 266.2,712.5 265.7,712.4 265.3,712.1 264.8,711.8 264.3,711.3 263.8,710.8 263.3,710.1 262.8,709.4 262.3,708.7 261.8,707.9 261.3,707.1 260.8,706.4 260.3,705.6 259.8,705.0 259.3,704.4 258.8,703.8 258.3,703.4 257.8,703.1 257.3,703.0 256.8,702.9 256.3,703.0 255.8,703.2 255.3,703.5 254.8,703.9 254.3,704.4 253.8,705.1 253.3,705.7 252.8,706.5 252.3,707.2 251.9,708.0 251.4,708.8 250.9,709.5 250.4,710.2 249.9,710.9 249.4,711.4 248.9,711.8 248.4,712.2 247.9,712.4 247.4,712.5 246.9,712.5 246.4,712.3 245.9,712.0 245.4,711.6 244.9,711.1 244.4,710.6 243.9,709.9 243.4,709.2 242.9,708.4 242.4,707.6 241.9,706.9 241.4,706.1 240.9,705.4 240.4,704.8 239.9,704.2 239.4,703.7 238.9,703.3 238.5,703.1 238.0,702.9 237.5,702.9 237.0,703.0 236.5,703.3 236.0,703.6 235.5,704.1 235.0,704.6 234.5,705.3 234.0,706.0 233.5,706.7 233.0,707.5 232.5,708.3 232.0,709.0" fill="#eef0f0"/><path d="M232.8 711.3L232.8 707.8M234.9 712.5L234.9 704.7M237.0 711.5L237.0 703.0M239.1 708.7L239.1 703.4M241.2 705.5L241.2 705.8M243.3 703.3L243.3 709.0M245.4 703.1L245.4 711.6M247.5 704.9L247.5 712.5M249.6 708.1L249.6 711.2M251.7 711.0L251.7 708.3M253.8 712.5L253.8 705.1M255.9 711.7L255.9 703.1M258.0 709.2L258.0 703.2M260.1 706.0L260.1 705.4M262.2 703.5L262.2 708.6M264.3 703.0L264.3 711.4M266.4 704.6L266.4 712.5M268.5 707.6L268.5 711.5M270.6 710.7L270.6 708.7M272.7 712.4L272.7 705.5M274.8 712.0L274.8 703.3M276.9 709.6L276.9 703.1M279.0 706.4L279.0 705.0M281.1 703.8L281.1 708.1M283.2 702.9L283.2 711.0M285.3 704.2L285.3 712.5M287.4 707.1L287.4 711.7M289.5 710.3L289.5 709.2M291.6 712.3L291.6 705.9M293.7 712.2L293.7 703.5M295.8 710.1L295.8 703.0M297.9 706.9L297.9 704.6" stroke="#6e7676" stroke-width="1.0" fill="none"/><polyline points="232.0,710.4 232.5,711.0 233.0,711.5 233.5,711.9 234.0,712.3 234.5,712.4 235.0,712.5 235.5,712.4 236.0,712.2 236.5,711.9 237.0,711.5 237.5,711.0 238.0,710.4 238.5,709.7 238.9,709.0 239.4,708.2 239.9,707.4 240.4,706.7 240.9,705.9 241.4,705.2 241.9,704.6 242.4,704.0 242.9,703.6 243.4,703.2 243.9,703.0 244.4,702.9 244.9,702.9 245.4,703.1 245.9,703.3 246.4,703.7 246.9,704.2 247.4,704.8 247.9,705.5 248.4,706.2 248.9,706.9 249.4,707.7 249.9,708.5 250.4,709.2 250.9,710.0 251.4,710.6 251.9,711.2 252.3,711.7 252.8,712.1 253.3,712.3 253.8,712.5 254.3,712.5 254.8,712.4 255.3,712.2 255.8,711.8 256.3,711.4 256.8,710.8 257.3,710.2 257.8,709.5 258.3,708.7 258.8,708.0 259.3,707.2 259.8,706.4 260.3,705.7 260.8,705.0 261.3,704.4 261.8,703.9 262.3,703.5 262.8,703.2 263.3,703.0 263.8,702.9 264.3,703.0 264.8,703.1 265.3,703.5 265.7,703.9 266.2,704.4 266.7,705.0 267.2,705.7 267.7,706.4 268.2,707.2 268.7,708.0 269.2,708.7 269.7,709.5 270.2,710.2 270.7,710.8 271.2,711.4 271.7,711.8 272.2,712.2 272.7,712.4 273.2,712.5 273.7,712.5 274.2,712.3 274.7,712.1 275.2,711.7 275.7,711.2 276.2,710.6 276.7,710.0 277.2,709.2 277.7,708.5 278.2,707.7 278.7,706.9 279.1,706.2 279.6,705.5 280.1,704.8 280.6,704.2 281.1,703.7 281.6,703.4 282.1,703.1 282.6,702.9 283.1,702.9 283.6,703.0 284.1,703.2 284.6,703.6 285.1,704.0 285.6,704.6 286.1,705.2 286.6,705.9 287.1,706.6 287.6,707.4 288.1,708.2 288.6,709.0 289.1,709.7 289.6,710.4 290.1,711.0 290.6,711.5 291.1,711.9 291.6,712.2 292.1,712.4 292.5,712.5 293.0,712.4 293.5,712.3 294.0,712.0 294.5,711.5 295.0,711.0 295.5,710.4 296.0,709.7 296.5,709.0 297.0,708.3 297.5,707.5 298.0,706.7 298.5,706.0 299.0,705.3" fill="none" stroke="#d4154a" stroke-width="1.5"/><polyline points="232.0,709.0 232.5,708.3 233.0,707.5 233.5,706.7 234.0,706.0 234.5,705.3 235.0,704.6 235.5,704.1 236.0,703.6 236.5,703.3 237.0,703.0 237.5,702.9 238.0,702.9 238.5,703.1 238.9,703.3 239.4,703.7 239.9,704.2 240.4,704.8 240.9,705.4 241.4,706.1 241.9,706.9 242.4,707.6 242.9,708.4 243.4,709.2 243.9,709.9 244.4,710.6 244.9,711.1 245.4,711.6 245.9,712.0 246.4,712.3 246.9,712.5 247.4,712.5 247.9,712.4 248.4,712.2 248.9,711.8 249.4,711.4 249.9,710.9 250.4,710.2 250.9,709.5 251.4,708.8 251.9,708.0 252.3,707.2 252.8,706.5 253.3,705.7 253.8,705.1 254.3,704.4 254.8,703.9 255.3,703.5 255.8,703.2 256.3,703.0 256.8,702.9 257.3,703.0 257.8,703.1 258.3,703.4 258.8,703.8 259.3,704.4 259.8,705.0 260.3,705.6 260.8,706.4 261.3,707.1 261.8,707.9 262.3,708.7 262.8,709.4 263.3,710.1 263.8,710.8 264.3,711.3 264.8,711.8 265.3,712.1 265.7,712.4 266.2,712.5 266.7,712.5 267.2,712.3 267.7,712.1 268.2,711.7 268.7,711.2 269.2,710.7 269.7,710.0 270.2,709.3 270.7,708.5 271.2,707.8 271.7,707.0 272.2,706.2 272.7,705.5 273.2,704.9 273.7,704.3 274.2,703.8 274.7,703.4 275.2,703.1 275.7,702.9 276.2,702.9 276.7,703.0 277.2,703.2 277.7,703.5 278.2,704.0 278.7,704.5 279.1,705.2 279.6,705.8 280.1,706.6 280.6,707.4 281.1,708.1 281.6,708.9 282.1,709.6 282.6,710.3 283.1,710.9 283.6,711.5 284.1,711.9 284.6,712.2 285.1,712.4 285.6,712.5 286.1,712.4 286.6,712.3 287.1,712.0 287.6,711.6 288.1,711.1 288.6,710.5 289.1,709.8 289.6,709.1 290.1,708.3 290.6,707.5 291.1,706.8 291.6,706.0 292.1,705.3 292.5,704.7 293.0,704.1 293.5,703.6 294.0,703.3 294.5,703.0 295.0,702.9 295.5,702.9 296.0,703.1 296.5,703.3 297.0,703.7 297.5,704.2 298.0,704.7 298.5,705.4 299.0,706.1" fill="none" stroke="#d4154a" stroke-width="1.5"/>
<path d="M162 675.5 C168 675.5 174 678 181 681.5 C188 684 200 686 208 688.5 C216 691 226 697 233 705" fill="none" stroke="#6a6a6a" stroke-width="3.6" stroke-dasharray="0.7 3.3" transform="translate(0,-1.2)"/><path d="M162 675.5 C168 675.5 174 678 181 681.5 C188 684 200 686 208 688.5 C216 691 226 697 233 705" fill="none" stroke="#d4154a" stroke-width="1.2"/>
<path d="M209.5 715.3 C216 715.6 222 715.4 227 714.6 C230 713 231.5 709 232.3 705.5" fill="none" stroke="#d4154a" stroke-width="1.2"/>
<path d="M211.4 715 L211.4 707" fill="none" stroke="#d4154a" stroke-width="1.2"/>
<circle cx="150" cy="690.6" r="1.7" fill="#c8102e"/>
<circle cx="179.4" cy="699" r="1.7" fill="#c8102e"/>
<circle cx="204.9" cy="701.3" r="1.7" fill="#c8102e"/>
<circle cx="159.6" cy="711.9" r="1.7" fill="#c8102e"/>
<circle cx="174.3" cy="714.7" r="1.7" fill="#c8102e"/>
<circle cx="192.3" cy="712.4" r="1.7" fill="#c8102e"/>
<circle cx="148.2" cy="726.6" r="1.7" fill="#c8102e"/>
<polygon points="388.1,648.5 388.2,649.3 388.3,650.1 388.4,650.8 388.6,651.5 388.8,652.1 389.1,652.6 389.4,653.0 389.8,653.3 390.3,653.5 390.8,653.6 391.3,653.7 392.0,653.6 392.6,653.5 393.3,653.3 394.1,653.0 394.8,652.7 395.6,652.4 396.4,652.0 397.2,651.7 398.0,651.3 398.8,651.0 399.5,650.7 400.3,650.5 400.9,650.4 401.6,650.3 402.1,650.3 402.7,650.4 403.1,650.6 403.5,650.9 403.9,651.3 404.2,651.8 404.4,652.3 404.6,653.0 404.8,653.7 404.9,654.5 405.0,655.3 405.0,656.1 405.1,657.0 405.1,657.9 405.2,658.7 405.3,659.6 405.4,660.4 405.5,661.1 405.7,661.8 405.9,662.4 406.2,662.9 406.5,663.3 406.9,663.6 407.3,663.9 407.8,664.0 408.4,664.0 409.0,664.0 409.7,663.9 410.4,663.7 411.1,663.4 411.9,663.1 412.7,662.8 413.5,662.4 414.2,662.1 415.0,661.7 415.8,661.4 416.6,661.1 417.3,660.9 418.0,660.8 418.6,660.7 419.2,660.7 419.7,660.8 420.2,660.9 420.6,661.2 421.0,661.6 421.3,662.1 421.5,662.6 421.7,663.3 421.8,664.0 422.0,664.7 422.1,665.6 422.1,666.4 422.2,667.3 422.2,668.2 422.3,669.0 422.4,669.9 422.5,670.6 422.6,671.4 422.8,672.1 423.0,672.7 423.3,673.2 423.6,673.6 424.0,674.0 424.4,674.2 424.9,674.4 425.4,674.4 426.0,674.4 426.7,674.3 427.4,674.1 428.1,673.8 428.9,673.5 429.7,673.2 430.5,672.8 431.3,672.5 432.1,672.1 432.8,671.8 433.6,671.5 434.3,671.3 435.0,671.1 435.6,671.0 436.2,671.0 436.8,671.1 437.2,671.3 437.7,671.6 438.0,671.9 438.3,672.4 438.6,672.9 438.8,673.6 434.6,680.4 434.3,680.0 434.0,679.5 433.8,678.9 433.6,678.3 433.5,677.5 433.3,676.8 433.3,675.9 433.2,675.1 433.1,674.2 433.1,673.3 433.0,672.5 432.9,671.6 432.8,670.9 432.7,670.1 432.5,669.5 432.3,668.9 432.0,668.4 431.7,668.0 431.3,667.7 430.8,667.4 430.3,667.3 429.8,667.3 429.1,667.3 428.5,667.5 427.8,667.7 427.0,667.9 426.3,668.3 425.5,668.6 424.7,668.9 423.9,669.3 423.1,669.6 422.3,670.0 421.6,670.2 420.8,670.4 420.2,670.6 419.5,670.7 419.0,670.7 418.4,670.6 418.0,670.4 417.6,670.1 417.2,669.7 416.9,669.2 416.7,668.6 416.5,668.0 416.4,667.3 416.3,666.5 416.2,665.7 416.1,664.8 416.0,663.9 416.0,663.1 415.9,662.2 415.9,661.4 415.7,660.6 415.6,659.8 415.4,659.2 415.2,658.6 414.9,658.1 414.6,657.6 414.2,657.3 413.8,657.1 413.3,657.0 412.7,656.9 412.1,657.0 411.4,657.1 410.7,657.3 410.0,657.6 409.2,657.9 408.4,658.2 407.6,658.5 406.8,658.9 406.1,659.2 405.3,659.6 404.5,659.8 403.8,660.1 403.1,660.2 402.5,660.3 401.9,660.3 401.4,660.2 400.9,660.0 400.5,659.7 400.2,659.4 399.9,658.9 399.6,658.3 399.4,657.7 399.3,657.0 399.2,656.2 399.1,655.4 399.0,654.5 398.9,653.7 398.9,652.8 398.8,651.9 398.8,651.1 398.7,650.3 398.5,649.5 398.3,648.9 398.1,648.3 397.9,647.7 397.5,647.3 397.2,647.0 396.7,646.8 396.2,646.6 395.7,646.6 395.1,646.6 394.4,646.7 393.7,646.9 393.0,647.2 392.2,647.5 391.4,647.8 390.6,648.1 389.8,648.5 389.0,648.9 388.2,649.2 387.5,649.5" fill="#eef0f0"/><path d="M388.2 649.8L388.7 649.0M389.0 652.5L392.1 647.5M390.8 653.6L395.1 646.6M393.5 653.2L397.2 647.1M396.8 651.9L398.4 649.2M400.0 650.6L398.9 652.5M402.6 650.4L399.1 656.1M404.2 651.8L399.9 658.9M404.9 654.7L401.5 660.2M405.2 658.3L404.2 660.0M405.6 661.6L407.4 658.7M406.9 663.6L410.7 657.3M409.1 664.0L413.3 657.0M412.1 663.0L415.0 658.2M415.5 661.6L415.8 661.0M418.5 660.7L416.1 664.6M420.6 661.2L416.5 668.0M421.7 663.4L417.6 670.1M422.1 666.8L419.8 670.7M422.4 670.3L422.8 669.8M423.2 673.1L426.1 668.3M424.9 674.4L429.2 667.3M427.6 674.0L431.4 667.7M430.8 672.7L432.6 669.8M434.1 671.4L433.1 673.0M436.7 671.1L433.3 676.7M438.4 672.4L434.0 679.5" stroke="#6e7676" stroke-width="1.0" fill="none"/><polyline points="388.1,648.5 388.2,649.3 388.3,650.1 388.4,650.8 388.6,651.5 388.8,652.1 389.1,652.6 389.4,653.0 389.8,653.3 390.3,653.5 390.8,653.6 391.3,653.7 392.0,653.6 392.6,653.5 393.3,653.3 394.1,653.0 394.8,652.7 395.6,652.4 396.4,652.0 397.2,651.7 398.0,651.3 398.8,651.0 399.5,650.7 400.3,650.5 400.9,650.4 401.6,650.3 402.1,650.3 402.7,650.4 403.1,650.6 403.5,650.9 403.9,651.3 404.2,651.8 404.4,652.3 404.6,653.0 404.8,653.7 404.9,654.5 405.0,655.3 405.0,656.1 405.1,657.0 405.1,657.9 405.2,658.7 405.3,659.6 405.4,660.4 405.5,661.1 405.7,661.8 405.9,662.4 406.2,662.9 406.5,663.3 406.9,663.6 407.3,663.9 407.8,664.0 408.4,664.0 409.0,664.0 409.7,663.9 410.4,663.7 411.1,663.4 411.9,663.1 412.7,662.8 413.5,662.4 414.2,662.1 415.0,661.7 415.8,661.4 416.6,661.1 417.3,660.9 418.0,660.8 418.6,660.7 419.2,660.7 419.7,660.8 420.2,660.9 420.6,661.2 421.0,661.6 421.3,662.1 421.5,662.6 421.7,663.3 421.8,664.0 422.0,664.7 422.1,665.6 422.1,666.4 422.2,667.3 422.2,668.2 422.3,669.0 422.4,669.9 422.5,670.6 422.6,671.4 422.8,672.1 423.0,672.7 423.3,673.2 423.6,673.6 424.0,674.0 424.4,674.2 424.9,674.4 425.4,674.4 426.0,674.4 426.7,674.3 427.4,674.1 428.1,673.8 428.9,673.5 429.7,673.2 430.5,672.8 431.3,672.5 432.1,672.1 432.8,671.8 433.6,671.5 434.3,671.3 435.0,671.1 435.6,671.0 436.2,671.0 436.8,671.1 437.2,671.3 437.7,671.6 438.0,671.9 438.3,672.4 438.6,672.9 438.8,673.6" fill="none" stroke="#d4154a" stroke-width="1.5"/><polyline points="387.5,649.5 388.2,649.2 389.0,648.9 389.8,648.5 390.6,648.1 391.4,647.8 392.2,647.5 393.0,647.2 393.7,646.9 394.4,646.7 395.1,646.6 395.7,646.6 396.2,646.6 396.7,646.8 397.2,647.0 397.5,647.3 397.9,647.7 398.1,648.3 398.3,648.9 398.5,649.5 398.7,650.3 398.8,651.1 398.8,651.9 398.9,652.8 398.9,653.7 399.0,654.5 399.1,655.4 399.2,656.2 399.3,657.0 399.4,657.7 399.6,658.3 399.9,658.9 400.2,659.4 400.5,659.7 400.9,660.0 401.4,660.2 401.9,660.3 402.5,660.3 403.1,660.2 403.8,660.1 404.5,659.8 405.3,659.6 406.1,659.2 406.8,658.9 407.6,658.5 408.4,658.2 409.2,657.9 410.0,657.6 410.7,657.3 411.4,657.1 412.1,657.0 412.7,656.9 413.3,657.0 413.8,657.1 414.2,657.3 414.6,657.6 414.9,658.1 415.2,658.6 415.4,659.2 415.6,659.8 415.7,660.6 415.9,661.4 415.9,662.2 416.0,663.1 416.0,663.9 416.1,664.8 416.2,665.7 416.3,666.5 416.4,667.3 416.5,668.0 416.7,668.6 416.9,669.2 417.2,669.7 417.6,670.1 418.0,670.4 418.4,670.6 419.0,670.7 419.5,670.7 420.2,670.6 420.8,670.4 421.6,670.2 422.3,670.0 423.1,669.6 423.9,669.3 424.7,668.9 425.5,668.6 426.3,668.3 427.0,667.9 427.8,667.7 428.5,667.5 429.1,667.3 429.8,667.3 430.3,667.3 430.8,667.4 431.3,667.7 431.7,668.0 432.0,668.4 432.3,668.9 432.5,669.5 432.7,670.1 432.8,670.9 432.9,671.6 433.0,672.5 433.1,673.3 433.1,674.2 433.2,675.1 433.3,675.9 433.3,676.8 433.5,677.5 433.6,678.3 433.8,678.9 434.0,679.5 434.3,680.0 434.6,680.4" fill="none" stroke="#d4154a" stroke-width="1.5"/>
<polygon points="390.3,760.4 390.8,760.5 391.4,760.5 391.9,760.5 392.4,760.3 392.8,760.0 393.2,759.6 393.5,759.2 393.8,758.6 394.1,757.9 394.4,757.2 394.6,756.5 394.8,755.6 395.0,754.8 395.2,753.9 395.4,753.1 395.6,752.3 395.8,751.5 396.0,750.7 396.3,750.1 396.6,749.5 396.9,749.0 397.3,748.5 397.7,748.2 398.2,748.0 398.7,747.9 399.2,747.9 399.8,748.0 400.4,748.2 401.1,748.5 401.8,748.9 402.5,749.3 403.2,749.7 403.9,750.2 404.6,750.7 405.4,751.1 406.1,751.6 406.8,752.0 407.5,752.4 408.2,752.7 408.8,752.9 409.4,753.0 409.9,753.0 410.4,753.0 410.9,752.8 411.3,752.5 411.7,752.1 412.1,751.7 412.4,751.1 412.7,750.4 412.9,749.7 413.1,749.0 413.3,748.1 413.5,747.3 413.7,746.4 413.9,745.6 414.1,744.8 414.3,744.0 414.6,743.2 414.8,742.6 415.1,742.0 415.5,741.5 415.8,741.0 416.3,740.7 416.7,740.5 417.2,740.4 417.8,740.4 418.3,740.5 419.0,740.7 419.6,741.0 420.3,741.3 421.0,741.7 421.7,742.2 422.4,742.7 423.2,743.1 423.9,743.6 424.6,744.1 425.3,744.5 426.0,744.8 426.7,745.1 427.3,745.4 427.9,745.5 428.5,745.5 429.0,745.5 429.4,745.3 429.9,745.0 430.2,744.6 430.6,744.2 430.9,743.6 431.2,742.9 431.4,742.2 431.7,741.5 431.9,740.6 432.1,739.8 432.3,738.9 432.4,738.1 432.6,737.3 432.9,736.5 433.1,735.7 433.4,735.0 433.7,734.5 434.0,733.9 434.4,733.5 434.8,733.2 435.2,733.0 435.7,732.9 436.3,732.9 436.9,733.0 437.5,733.2 438.1,733.5 438.8,733.8 439.5,734.2 440.2,734.7 441.0,735.1 441.7,735.6 442.4,736.1 443.1,736.5 443.9,737.0 444.5,737.3 445.2,737.6 445.8,737.8 446.4,738.0 447.0,738.0 447.5,737.9 448.0,737.8 448.4,737.5 448.8,737.1 449.1,736.7 449.4,736.1 449.7,735.4 450.0,734.7 450.2,734.0 450.4,733.1 450.6,732.3 450.8,731.4 451.0,730.6 451.2,729.8 451.4,729.0 451.6,728.2 451.9,727.5 452.2,726.9 452.5,726.4 452.9,726.0 453.3,725.7 453.8,725.5 454.3,725.4 454.8,725.4 455.4,725.5 456.0,725.7 456.7,726.0 457.3,726.3 458.0,726.7 458.8,727.1 459.5,727.6 460.2,728.1 460.9,728.6 461.7,729.0 462.4,729.4 463.1,729.8 463.7,730.1 464.4,730.3 465.0,730.5 465.5,730.5 466.0,730.4 466.5,730.3 466.9,730.0 467.3,729.6 467.7,729.2 468.0,728.6 468.2,727.9 468.5,727.2 468.7,726.5 468.9,725.6 469.1,724.8 469.3,723.9 469.5,723.1 469.7,722.3 469.9,721.5 470.2,720.7 470.4,720.0 470.7,719.4 471.1,718.9 471.4,718.5 471.8,718.2 472.3,718.0 472.8,717.9 473.3,717.9 473.9,718.0 474.5,718.2 475.2,718.4 475.9,718.8 476.6,719.2 477.3,719.6 478.0,720.1 478.7,720.6 479.5,721.0 480.2,721.5 480.9,721.9 481.6,722.3 482.3,722.6 482.9,722.8 483.5,722.9 484.0,723.0 484.5,722.9 485.0,722.8 485.5,722.5 485.8,722.1 486.2,721.6 486.5,721.1 486.8,720.4 487.0,719.7 487.3,719.0 487.5,718.1 485.4,713.1 484.9,713.1 484.4,713.1 483.9,713.3 483.5,713.6 483.1,714.0 482.7,714.4 482.4,715.0 482.1,715.6 481.9,716.4 481.7,717.1 481.5,717.9 481.3,718.8 481.1,719.6 480.9,720.5 480.7,721.3 480.4,722.1 480.2,722.9 479.9,723.5 479.6,724.1 479.3,724.6 478.9,725.1 478.5,725.4 478.1,725.6 477.6,725.7 477.0,725.7 476.5,725.6 475.8,725.4 475.2,725.1 474.5,724.8 473.8,724.4 473.1,723.9 472.4,723.5 471.6,723.0 470.9,722.5 470.2,722.1 469.5,721.6 468.8,721.3 468.1,721.0 467.5,720.8 466.9,720.6 466.3,720.6 465.8,720.6 465.4,720.8 464.9,721.1 464.5,721.5 464.2,721.9 463.9,722.5 463.6,723.1 463.4,723.9 463.1,724.6 462.9,725.4 462.7,726.3 462.5,727.1 462.3,728.0 462.1,728.8 461.9,729.6 461.7,730.4 461.4,731.0 461.1,731.6 460.8,732.1 460.4,732.6 460.0,732.9 459.5,733.1 459.0,733.2 458.5,733.2 457.9,733.1 457.3,732.9 456.7,732.6 456.0,732.3 455.3,731.9 454.6,731.5 453.8,731.0 453.1,730.5 452.4,730.0 451.7,729.6 450.9,729.2 450.3,728.8 449.6,728.5 449.0,728.3 448.4,728.1 447.8,728.1 447.3,728.2 446.8,728.3 446.4,728.6 446.0,729.0 445.7,729.4 445.3,730.0 445.1,730.6 444.8,731.4 444.6,732.1 444.4,732.9 444.2,733.8 444.0,734.6 443.8,735.5 443.6,736.3 443.4,737.1 443.1,737.9 442.9,738.5 442.6,739.1 442.3,739.7 441.9,740.1 441.5,740.4 441.0,740.6 440.5,740.7 440.0,740.7 439.4,740.6 438.8,740.4 438.1,740.2 437.5,739.8 436.8,739.4 436.0,739.0 435.3,738.5 434.6,738.0 433.9,737.6 433.1,737.1 432.4,736.7 431.7,736.3 431.1,736.0 430.4,735.8 429.8,735.7 429.3,735.6 428.8,735.7 428.3,735.8 427.9,736.1 427.5,736.5 427.1,736.9 426.8,737.5 426.5,738.1 426.3,738.9 426.1,739.6 425.9,740.4 425.7,741.3 425.5,742.1 425.3,743.0 425.1,743.8 424.9,744.6 424.6,745.4 424.3,746.0 424.1,746.6 423.7,747.2 423.4,747.6 422.9,747.9 422.5,748.1 422.0,748.2 421.5,748.2 420.9,748.1 420.3,747.9 419.6,747.7 418.9,747.3 418.2,746.9 417.5,746.5 416.8,746.0 416.1,745.6 415.3,745.1 414.6,744.6 413.9,744.2 413.2,743.8 412.5,743.5 411.9,743.3 411.3,743.2 410.8,743.1 410.2,743.2 409.8,743.3 409.3,743.6 408.9,744.0 408.6,744.4 408.3,745.0 408.0,745.6 407.8,746.4 407.5,747.1 407.3,747.9 407.1,748.8 406.9,749.6 406.7,750.5 406.5,751.3 406.3,752.1 406.1,752.9 405.8,753.5 405.5,754.1 405.2,754.7 404.8,755.1 404.4,755.4 404.0,755.6 403.5,755.7 402.9,755.7 402.4,755.6 401.7,755.5 401.1,755.2 400.4,754.9 399.7,754.5 399.0,754.0 398.3,753.6 397.5,753.1 396.8,752.6 396.1,752.1 395.4,751.7 394.7,751.4 394.0,751.0 393.4,750.8 392.8,750.7 392.2,750.6 391.7,750.7 391.2,750.9 390.8,751.1 390.4,751.5 390.1,751.9 389.8,752.5 389.5,753.1 389.2,753.9 389.0,754.6 388.8,755.4 388.6,756.3" fill="#eef0f0"/><path d="M391.2 760.5L388.9 755.0M393.1 759.7L390.0 752.1M394.4 757.2L391.7 750.7M395.2 753.8L394.2 751.1M396.2 750.4L397.1 752.8M397.6 748.3L400.1 754.7M399.7 748.0L402.8 755.7M402.5 749.3L404.8 755.1M405.5 751.2L406.1 752.7M408.4 752.8L407.0 749.3M410.7 752.9L407.9 745.9M412.3 751.2L409.3 743.7M413.3 748.1L411.3 743.2M414.2 744.6L414.0 744.3M415.3 741.7L417.1 746.2M417.0 740.5L420.0 747.9M419.5 740.9L422.4 748.1M422.5 742.7L424.1 746.6M425.5 744.6L425.1 743.6M428.1 745.5L425.9 740.1M430.1 744.8L427.0 737.1M431.4 742.3L428.7 735.7M432.3 738.9L431.1 736.0M433.2 735.6L434.0 737.7M434.6 733.4L437.1 739.6M436.7 733.0L439.8 740.7M439.4 734.2L441.8 740.1M442.5 736.1L443.2 737.8M445.4 737.7L444.0 734.4M447.7 737.9L444.9 731.0M449.3 736.3L446.3 728.7M450.4 733.3L448.3 728.1M451.2 729.7L451.0 729.2M452.3 726.8L454.0 731.1M454.0 725.4L457.0 732.8M456.4 725.9L459.4 733.1M459.4 727.5L461.1 731.7M462.4 729.5L462.1 728.8M465.1 730.5L463.0 725.2M467.1 729.8L464.0 722.2M468.4 727.5L465.7 720.7M469.3 724.0L468.0 720.9M470.2 720.7L471.0 722.5M471.5 718.4L474.0 724.5M473.6 717.9L476.7 725.6M476.3 719.0L478.8 725.2M479.4 721.0L480.2 722.9M482.3 722.6L481.1 719.6M484.7 722.9L482.0 716.1M486.3 721.4L483.2 713.8" stroke="#6e7676" stroke-width="1.0" fill="none"/><polyline points="390.3,760.4 390.8,760.5 391.4,760.5 391.9,760.5 392.4,760.3 392.8,760.0 393.2,759.6 393.5,759.2 393.8,758.6 394.1,757.9 394.4,757.2 394.6,756.5 394.8,755.6 395.0,754.8 395.2,753.9 395.4,753.1 395.6,752.3 395.8,751.5 396.0,750.7 396.3,750.1 396.6,749.5 396.9,749.0 397.3,748.5 397.7,748.2 398.2,748.0 398.7,747.9 399.2,747.9 399.8,748.0 400.4,748.2 401.1,748.5 401.8,748.9 402.5,749.3 403.2,749.7 403.9,750.2 404.6,750.7 405.4,751.1 406.1,751.6 406.8,752.0 407.5,752.4 408.2,752.7 408.8,752.9 409.4,753.0 409.9,753.0 410.4,753.0 410.9,752.8 411.3,752.5 411.7,752.1 412.1,751.7 412.4,751.1 412.7,750.4 412.9,749.7 413.1,749.0 413.3,748.1 413.5,747.3 413.7,746.4 413.9,745.6 414.1,744.8 414.3,744.0 414.6,743.2 414.8,742.6 415.1,742.0 415.5,741.5 415.8,741.0 416.3,740.7 416.7,740.5 417.2,740.4 417.8,740.4 418.3,740.5 419.0,740.7 419.6,741.0 420.3,741.3 421.0,741.7 421.7,742.2 422.4,742.7 423.2,743.1 423.9,743.6 424.6,744.1 425.3,744.5 426.0,744.8 426.7,745.1 427.3,745.4 427.9,745.5 428.5,745.5 429.0,745.5 429.4,745.3 429.9,745.0 430.2,744.6 430.6,744.2 430.9,743.6 431.2,742.9 431.4,742.2 431.7,741.5 431.9,740.6 432.1,739.8 432.3,738.9 432.4,738.1 432.6,737.3 432.9,736.5 433.1,735.7 433.4,735.0 433.7,734.5 434.0,733.9 434.4,733.5 434.8,733.2 435.2,733.0 435.7,732.9 436.3,732.9 436.9,733.0 437.5,733.2 438.1,733.5 438.8,733.8 439.5,734.2 440.2,734.7 441.0,735.1 441.7,735.6 442.4,736.1 443.1,736.5 443.9,737.0 444.5,737.3 445.2,737.6 445.8,737.8 446.4,738.0 447.0,738.0 447.5,737.9 448.0,737.8 448.4,737.5 448.8,737.1 449.1,736.7 449.4,736.1 449.7,735.4 450.0,734.7 450.2,734.0 450.4,733.1 450.6,732.3 450.8,731.4 451.0,730.6 451.2,729.8 451.4,729.0 451.6,728.2 451.9,727.5 452.2,726.9 452.5,726.4 452.9,726.0 453.3,725.7 453.8,725.5 454.3,725.4 454.8,725.4 455.4,725.5 456.0,725.7 456.7,726.0 457.3,726.3 458.0,726.7 458.8,727.1 459.5,727.6 460.2,728.1 460.9,728.6 461.7,729.0 462.4,729.4 463.1,729.8 463.7,730.1 464.4,730.3 465.0,730.5 465.5,730.5 466.0,730.4 466.5,730.3 466.9,730.0 467.3,729.6 467.7,729.2 468.0,728.6 468.2,727.9 468.5,727.2 468.7,726.5 468.9,725.6 469.1,724.8 469.3,723.9 469.5,723.1 469.7,722.3 469.9,721.5 470.2,720.7 470.4,720.0 470.7,719.4 471.1,718.9 471.4,718.5 471.8,718.2 472.3,718.0 472.8,717.9 473.3,717.9 473.9,718.0 474.5,718.2 475.2,718.4 475.9,718.8 476.6,719.2 477.3,719.6 478.0,720.1 478.7,720.6 479.5,721.0 480.2,721.5 480.9,721.9 481.6,722.3 482.3,722.6 482.9,722.8 483.5,722.9 484.0,723.0 484.5,722.9 485.0,722.8 485.5,722.5 485.8,722.1 486.2,721.6 486.5,721.1 486.8,720.4 487.0,719.7 487.3,719.0 487.5,718.1" fill="none" stroke="#d4154a" stroke-width="1.5"/><polyline points="388.6,756.3 388.8,755.4 389.0,754.6 389.2,753.9 389.5,753.1 389.8,752.5 390.1,751.9 390.4,751.5 390.8,751.1 391.2,750.9 391.7,750.7 392.2,750.6 392.8,750.7 393.4,750.8 394.0,751.0 394.7,751.4 395.4,751.7 396.1,752.1 396.8,752.6 397.5,753.1 398.3,753.6 399.0,754.0 399.7,754.5 400.4,754.9 401.1,755.2 401.7,755.5 402.4,755.6 402.9,755.7 403.5,755.7 404.0,755.6 404.4,755.4 404.8,755.1 405.2,754.7 405.5,754.1 405.8,753.5 406.1,752.9 406.3,752.1 406.5,751.3 406.7,750.5 406.9,749.6 407.1,748.8 407.3,747.9 407.5,747.1 407.8,746.4 408.0,745.6 408.3,745.0 408.6,744.4 408.9,744.0 409.3,743.6 409.8,743.3 410.2,743.2 410.8,743.1 411.3,743.2 411.9,743.3 412.5,743.5 413.2,743.8 413.9,744.2 414.6,744.6 415.3,745.1 416.1,745.6 416.8,746.0 417.5,746.5 418.2,746.9 418.9,747.3 419.6,747.7 420.3,747.9 420.9,748.1 421.5,748.2 422.0,748.2 422.5,748.1 422.9,747.9 423.4,747.6 423.7,747.2 424.1,746.6 424.3,746.0 424.6,745.4 424.9,744.6 425.1,743.8 425.3,743.0 425.5,742.1 425.7,741.3 425.9,740.4 426.1,739.6 426.3,738.9 426.5,738.1 426.8,737.5 427.1,736.9 427.5,736.5 427.9,736.1 428.3,735.8 428.8,735.7 429.3,735.6 429.8,735.7 430.4,735.8 431.1,736.0 431.7,736.3 432.4,736.7 433.1,737.1 433.9,737.6 434.6,738.0 435.3,738.5 436.0,739.0 436.8,739.4 437.5,739.8 438.1,740.2 438.8,740.4 439.4,740.6 440.0,740.7 440.5,740.7 441.0,740.6 441.5,740.4 441.9,740.1 442.3,739.7 442.6,739.1 442.9,738.5 443.1,737.9 443.4,737.1 443.6,736.3 443.8,735.5 444.0,734.6 444.2,733.8 444.4,732.9 444.6,732.1 444.8,731.4 445.1,730.6 445.3,730.0 445.7,729.4 446.0,729.0 446.4,728.6 446.8,728.3 447.3,728.2 447.8,728.1 448.4,728.1 449.0,728.3 449.6,728.5 450.3,728.8 450.9,729.2 451.7,729.6 452.4,730.0 453.1,730.5 453.8,731.0 454.6,731.5 455.3,731.9 456.0,732.3 456.7,732.6 457.3,732.9 457.9,733.1 458.5,733.2 459.0,733.2 459.5,733.1 460.0,732.9 460.4,732.6 460.8,732.1 461.1,731.6 461.4,731.0 461.7,730.4 461.9,729.6 462.1,728.8 462.3,728.0 462.5,727.1 462.7,726.3 462.9,725.4 463.1,724.6 463.4,723.9 463.6,723.1 463.9,722.5 464.2,721.9 464.5,721.5 464.9,721.1 465.4,720.8 465.8,720.6 466.3,720.6 466.9,720.6 467.5,720.8 468.1,721.0 468.8,721.3 469.5,721.6 470.2,722.1 470.9,722.5 471.6,723.0 472.4,723.5 473.1,723.9 473.8,724.4 474.5,724.8 475.2,725.1 475.8,725.4 476.5,725.6 477.0,725.7 477.6,725.7 478.1,725.6 478.5,725.4 478.9,725.1 479.3,724.6 479.6,724.1 479.9,723.5 480.2,722.9 480.4,722.1 480.7,721.3 480.9,720.5 481.1,719.6 481.3,718.8 481.5,717.9 481.7,717.1 481.9,716.4 482.1,715.6 482.4,715.0 482.7,714.4 483.1,714.0 483.5,713.6 483.9,713.3 484.4,713.1 484.9,713.1 485.4,713.1" fill="none" stroke="#d4154a" stroke-width="1.5"/>
<polygon points="508.5,711.3 509.0,711.9 509.5,712.4 510.0,712.8 510.5,713.2 511.0,713.3 511.5,713.4 512.0,713.3 512.5,713.1 513.0,712.8 513.5,712.4 514.0,711.9 514.5,711.3 515.0,710.6 515.4,709.9 515.9,709.1 516.4,708.3 516.9,707.6 517.4,706.8 517.9,706.1 518.4,705.5 518.9,704.9 519.4,704.5 519.9,704.1 520.4,703.9 520.9,703.8 521.4,703.8 521.9,704.0 522.4,704.2 522.9,704.6 523.4,705.1 523.9,705.7 524.4,706.4 524.9,707.1 525.4,707.8 525.9,708.6 526.4,709.4 526.9,710.1 527.4,710.8 527.9,711.5 528.3,712.1 528.8,712.6 529.3,713.0 529.8,713.2 530.3,713.4 530.8,713.4 531.3,713.3 531.8,713.1 532.3,712.7 532.8,712.3 533.3,711.7 533.8,711.1 534.3,710.4 534.8,709.6 535.3,708.9 535.8,708.1 536.3,707.3 536.8,706.6 537.3,705.9 537.8,705.3 538.3,704.8 538.8,704.4 539.3,704.1 539.8,703.9 540.3,703.8 540.8,703.9 541.3,704.0 541.7,704.4 542.2,704.8 542.7,705.3 543.2,705.9 543.7,706.6 544.2,707.3 544.7,708.1 545.2,708.8 545.7,709.6 546.2,710.4 546.7,711.1 547.2,711.7 547.7,712.2 548.2,712.7 548.7,713.1 549.2,713.3 549.7,713.4 550.2,713.4 550.7,713.2 551.2,713.0 551.7,712.6 552.2,712.1 552.7,711.5 553.2,710.9 553.7,710.2 554.2,709.4 554.7,708.6 555.1,707.8 555.6,707.1 556.1,706.4 556.6,705.7 557.1,705.1 557.6,704.6 558.1,704.3 558.6,704.0 559.1,703.8 559.6,703.8 560.1,703.9 560.6,704.1 561.1,704.5 561.6,704.9 562.1,705.5 562.6,706.1 563.1,706.8 563.6,707.5 564.1,708.3 564.6,709.1 565.1,709.8 565.6,710.6 566.1,711.3 566.6,711.9 567.1,712.4 567.6,712.8 568.0,713.1 568.5,713.3 569.0,713.4 569.5,713.3 570.0,713.2 570.5,712.9 571.0,712.4 571.5,711.9 572.0,711.3 572.5,710.7 573.0,709.9 573.5,709.2 574.0,708.4 574.5,707.6 574.5,705.6 574.0,705.0 573.5,704.6 573.0,704.2 572.5,703.9 572.0,703.8 571.5,703.8 571.0,703.9 570.5,704.2 570.0,704.5 569.5,705.0 569.0,705.6 568.5,706.2 568.0,706.9 567.6,707.7 567.1,708.4 566.6,709.2 566.1,710.0 565.6,710.7 565.1,711.4 564.6,712.0 564.1,712.5 563.6,712.9 563.1,713.2 562.6,713.4 562.1,713.4 561.6,713.3 561.1,713.1 560.6,712.8 560.1,712.4 559.6,711.8 559.1,711.2 558.6,710.5 558.1,709.8 557.6,709.0 557.1,708.3 556.6,707.5 556.1,706.7 555.6,706.0 555.1,705.4 554.7,704.9 554.2,704.4 553.7,704.1 553.2,703.9 552.7,703.8 552.2,703.8 551.7,704.0 551.2,704.3 550.7,704.7 550.2,705.2 549.7,705.8 549.2,706.4 548.7,707.1 548.2,707.9 547.7,708.7 547.2,709.5 546.7,710.2 546.2,710.9 545.7,711.6 545.2,712.1 544.7,712.6 544.2,713.0 543.7,713.2 543.2,713.4 542.7,713.4 542.2,713.3 541.7,713.0 541.3,712.7 540.8,712.2 540.3,711.7 539.8,711.0 539.3,710.3 538.8,709.6 538.3,708.8 537.8,708.0 537.3,707.2 536.8,706.5 536.3,705.8 535.8,705.2 535.3,704.7 534.8,704.3 534.3,704.0 533.8,703.9 533.3,703.8 532.8,703.9 532.3,704.1 531.8,704.4 531.3,704.8 530.8,705.3 530.3,706.0 529.8,706.6 529.3,707.4 528.8,708.1 528.3,708.9 527.9,709.7 527.4,710.4 526.9,711.1 526.4,711.8 525.9,712.3 525.4,712.7 524.9,713.1 524.4,713.3 523.9,713.4 523.4,713.4 522.9,713.2 522.4,712.9 521.9,712.5 521.4,712.0 520.9,711.5 520.4,710.8 519.9,710.1 519.4,709.3 518.9,708.5 518.4,707.8 517.9,707.0 517.4,706.3 516.9,705.7 516.4,705.1 515.9,704.6 515.4,704.2 515.0,704.0 514.5,703.8 514.0,703.8 513.5,703.9 513.0,704.2 512.5,704.5 512.0,705.0 511.5,705.5 511.0,706.2 510.5,706.9 510.0,707.6 509.5,708.4 509.0,709.2 508.5,709.9" fill="#eef0f0"/><path d="M509.3 712.2L509.3 708.7M511.4 713.4L511.4 705.6M513.5 712.4L513.5 703.9M515.6 709.6L515.6 704.3M517.7 706.4L517.7 706.7M519.8 704.2L519.8 709.9M521.9 704.0L521.9 712.5M524.0 705.8L524.0 713.4M526.1 709.0L526.1 712.1M528.2 711.9L528.2 709.2M530.3 713.4L530.3 706.0M532.4 712.6L532.4 704.0M534.5 710.1L534.5 704.1M536.6 706.9L536.6 706.3M538.7 704.4L538.7 709.5M540.8 703.9L540.8 712.3M542.9 705.5L542.9 713.4M545.0 708.5L545.0 712.4M547.1 711.6L547.1 709.6M549.2 713.3L549.2 706.4M551.3 712.9L551.3 704.2M553.4 710.5L553.4 704.0M555.5 707.3L555.5 705.9M557.6 704.7L557.6 709.0M559.7 703.8L559.7 711.9M561.8 705.1L561.8 713.4M563.9 708.0L563.9 712.6M566.0 711.2L566.0 710.1M568.1 713.2L568.1 706.8M570.2 713.1L570.2 704.4M572.3 711.0L572.3 703.9" stroke="#6e7676" stroke-width="1.0" fill="none"/><polyline points="508.5,711.3 509.0,711.9 509.5,712.4 510.0,712.8 510.5,713.2 511.0,713.3 511.5,713.4 512.0,713.3 512.5,713.1 513.0,712.8 513.5,712.4 514.0,711.9 514.5,711.3 515.0,710.6 515.4,709.9 515.9,709.1 516.4,708.3 516.9,707.6 517.4,706.8 517.9,706.1 518.4,705.5 518.9,704.9 519.4,704.5 519.9,704.1 520.4,703.9 520.9,703.8 521.4,703.8 521.9,704.0 522.4,704.2 522.9,704.6 523.4,705.1 523.9,705.7 524.4,706.4 524.9,707.1 525.4,707.8 525.9,708.6 526.4,709.4 526.9,710.1 527.4,710.8 527.9,711.5 528.3,712.1 528.8,712.6 529.3,713.0 529.8,713.2 530.3,713.4 530.8,713.4 531.3,713.3 531.8,713.1 532.3,712.7 532.8,712.3 533.3,711.7 533.8,711.1 534.3,710.4 534.8,709.6 535.3,708.9 535.8,708.1 536.3,707.3 536.8,706.6 537.3,705.9 537.8,705.3 538.3,704.8 538.8,704.4 539.3,704.1 539.8,703.9 540.3,703.8 540.8,703.9 541.3,704.0 541.7,704.4 542.2,704.8 542.7,705.3 543.2,705.9 543.7,706.6 544.2,707.3 544.7,708.1 545.2,708.8 545.7,709.6 546.2,710.4 546.7,711.1 547.2,711.7 547.7,712.2 548.2,712.7 548.7,713.1 549.2,713.3 549.7,713.4 550.2,713.4 550.7,713.2 551.2,713.0 551.7,712.6 552.2,712.1 552.7,711.5 553.2,710.9 553.7,710.2 554.2,709.4 554.7,708.6 555.1,707.8 555.6,707.1 556.1,706.4 556.6,705.7 557.1,705.1 557.6,704.6 558.1,704.3 558.6,704.0 559.1,703.8 559.6,703.8 560.1,703.9 560.6,704.1 561.1,704.5 561.6,704.9 562.1,705.5 562.6,706.1 563.1,706.8 563.6,707.5 564.1,708.3 564.6,709.1 565.1,709.8 565.6,710.6 566.1,711.3 566.6,711.9 567.1,712.4 567.6,712.8 568.0,713.1 568.5,713.3 569.0,713.4 569.5,713.3 570.0,713.2 570.5,712.9 571.0,712.4 571.5,711.9 572.0,711.3 572.5,710.7 573.0,709.9 573.5,709.2 574.0,708.4 574.5,707.6" fill="none" stroke="#d4154a" stroke-width="1.5"/><polyline points="508.5,709.9 509.0,709.2 509.5,708.4 510.0,707.6 510.5,706.9 511.0,706.2 511.5,705.5 512.0,705.0 512.5,704.5 513.0,704.2 513.5,703.9 514.0,703.8 514.5,703.8 515.0,704.0 515.4,704.2 515.9,704.6 516.4,705.1 516.9,705.7 517.4,706.3 517.9,707.0 518.4,707.8 518.9,708.5 519.4,709.3 519.9,710.1 520.4,710.8 520.9,711.5 521.4,712.0 521.9,712.5 522.4,712.9 522.9,713.2 523.4,713.4 523.9,713.4 524.4,713.3 524.9,713.1 525.4,712.7 525.9,712.3 526.4,711.8 526.9,711.1 527.4,710.4 527.9,709.7 528.3,708.9 528.8,708.1 529.3,707.4 529.8,706.6 530.3,706.0 530.8,705.3 531.3,704.8 531.8,704.4 532.3,704.1 532.8,703.9 533.3,703.8 533.8,703.9 534.3,704.0 534.8,704.3 535.3,704.7 535.8,705.2 536.3,705.8 536.8,706.5 537.3,707.2 537.8,708.0 538.3,708.8 538.8,709.6 539.3,710.3 539.8,711.0 540.3,711.7 540.8,712.2 541.3,712.7 541.7,713.0 542.2,713.3 542.7,713.4 543.2,713.4 543.7,713.2 544.2,713.0 544.7,712.6 545.2,712.1 545.7,711.6 546.2,710.9 546.7,710.2 547.2,709.5 547.7,708.7 548.2,707.9 548.7,707.1 549.2,706.4 549.7,705.8 550.2,705.2 550.7,704.7 551.2,704.3 551.7,704.0 552.2,703.8 552.7,703.8 553.2,703.9 553.7,704.1 554.2,704.4 554.7,704.9 555.1,705.4 555.6,706.0 556.1,706.7 556.6,707.5 557.1,708.3 557.6,709.0 558.1,709.8 558.6,710.5 559.1,711.2 559.6,711.8 560.1,712.4 560.6,712.8 561.1,713.1 561.6,713.3 562.1,713.4 562.6,713.4 563.1,713.2 563.6,712.9 564.1,712.5 564.6,712.0 565.1,711.4 565.6,710.7 566.1,710.0 566.6,709.2 567.1,708.4 567.6,707.7 568.0,706.9 568.5,706.2 569.0,705.6 569.5,705.0 570.0,704.5 570.5,704.2 571.0,703.9 571.5,703.8 572.0,703.8 572.5,703.9 573.0,704.2 573.5,704.6 574.0,705.0 574.5,705.6" fill="none" stroke="#d4154a" stroke-width="1.5"/>
<path d="M436 675.5 C444 677 452 680.5 458 684 C466 688 474 688.5 481 689 C490 691 498 696 504 701 C507 703.5 508.5 705.5 509.4 706.8" fill="none" stroke="#6a6a6a" stroke-width="3.6" stroke-dasharray="0.7 3.3" transform="translate(0,-1.2)"/><path d="M436 675.5 C444 677 452 680.5 458 684 C466 688 474 688.5 481 689 C490 691 498 696 504 701 C507 703.5 508.5 705.5 509.4 706.8" fill="none" stroke="#d4154a" stroke-width="1.2"/>
<path d="M435 706 C439 709 442 712 445 715 C448 718.5 452 720 456 719.5 C462 717 466 712 471 708.5 C476 705 481 703 485 703 C488 703.5 487.5 710 486.5 716" fill="none" stroke="#6a6a6a" stroke-width="3.6" stroke-dasharray="0.7 3.3" transform="translate(0,-1.2)"/><path d="M435 706 C439 709 442 712 445 715 C448 718.5 452 720 456 719.5 C462 717 466 712 471 708.5 C476 705 481 703 485 703 C488 703.5 487.5 710 486.5 716" fill="none" stroke="#d4154a" stroke-width="1.2"/>
<path d="M487 716 C492 717.2 498 717 502 716 C505 713 507 710 508.4 707.2" fill="none" stroke="#d4154a" stroke-width="1.2"/>
<circle cx="435" cy="706" r="1.1" fill="#d4154a"/>
<path d="M234.5 677.8H299" stroke="#000" stroke-width="4"/><path d="M228.5 677.8 L251.5 667.3 Q243.5 677.8 251.5 689.3 Z" fill="#000"/>
<path d="M506.4 677.8H572.8" stroke="#000" stroke-width="4"/><path d="M500.4 677.8 L523.4 667.3 Q515.4 677.8 523.4 689.3 Z" fill="#000"/>
</svg></body></html>
